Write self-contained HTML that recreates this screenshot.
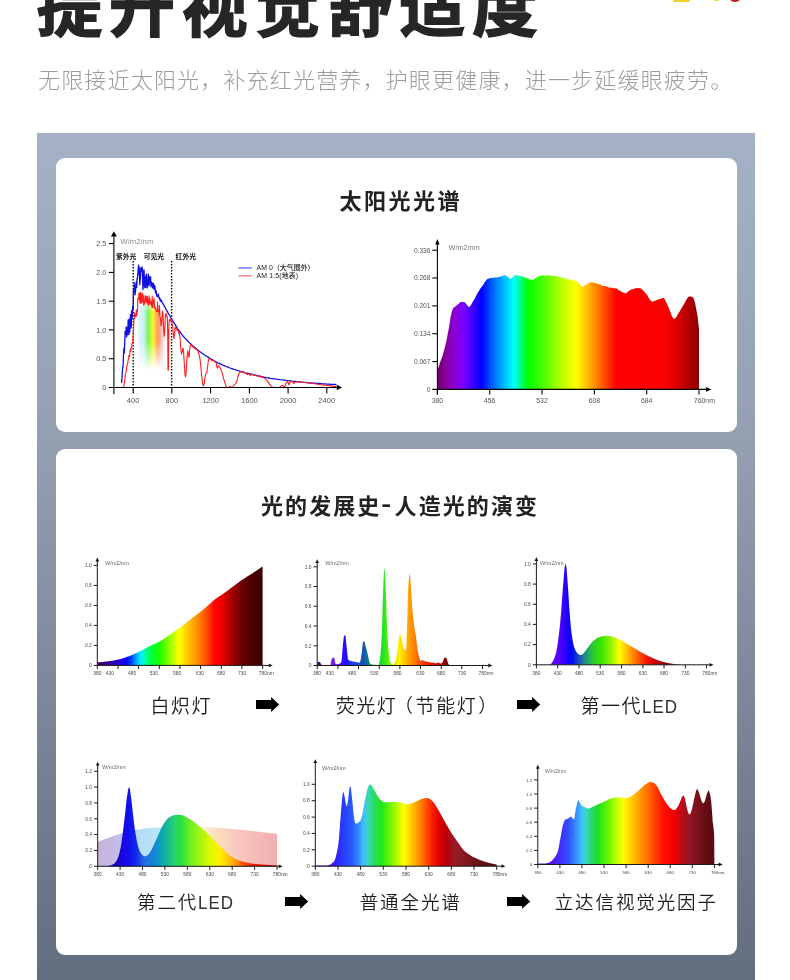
<!DOCTYPE html>
<html lang="zh-CN">
<head>
<meta charset="utf-8">
<title>提升视觉舒适度</title>
<style>
html,body{margin:0;padding:0;}
body{width:790px;height:980px;overflow:hidden;background:#fff;position:relative;
  font-family:"Liberation Sans","Noto Sans CJK SC",sans-serif;color:#222;}
.abs{position:absolute;white-space:nowrap;}
.h1{left:36.5px;top:-42px;font-size:66px;line-height:100px;font-weight:700;color:#262626;letter-spacing:6.6px;-webkit-text-stroke:1.4px #262626;}
.sub{left:38px;top:63.5px;font-size:22px;line-height:34px;font-weight:300;color:#9c9c9c;letter-spacing:1.18px;}
.deco{left:673px;top:-10px;width:17px;height:12px;border-radius:2px;background:#f0d020;}
.deco3{left:713px;top:-6px;width:7px;height:7px;border-radius:50%;background:#e2d800;}
.deco2{left:728px;top:-12px;width:14px;height:14px;border-radius:50%;background:#c8141e;}
.panel{left:37px;top:133px;width:718px;height:847px;background:linear-gradient(180deg,#a5b2c5 0%,#94a0b2 36.2%,#7c8899 67%,#626e7d 100%);}
.card{background:#fff;border-radius:9px;left:56px;width:681.2px;}
.c1{top:157.7px;height:274.2px;}
.c2{top:448.5px;height:506.4px;}
.t{font-weight:700;font-size:22px;line-height:30px;color:#222;}
.lab{font-family:"Liberation Sans","Noto Sans CJK SC",sans-serif;font-size:18.5px;line-height:28px;font-weight:350;color:#1c1c1c;letter-spacing:1.9px;}
.r1{font-size:19px;letter-spacing:1.55px;}
.en{display:inline-block;font-size:18.4px;letter-spacing:1.1px;color:#2e2e2e;transform:scaleX(0.92);transform-origin:0 50%;}
svg{position:absolute;left:0;top:0;}
svg text{font-family:"Liberation Sans","Noto Sans CJK SC",sans-serif;}
</style>
</head>
<body>
<div class="abs h1">提升视觉舒适度</div>
<div class="abs sub">无限接近太阳光，补充红光营养，护眼更健康，进一步延缓眼疲劳。</div>
<div class="abs deco"></div><div class="abs deco3"></div><div class="abs deco2"></div>
<div class="abs panel"></div>
<div class="abs card c1"></div>
<div class="abs card c2"></div>
<div class="abs t" style="left:339.5px;top:186.5px;letter-spacing:2.5px;">太阳光光谱</div>
<div class="abs t" style="left:261px;top:491.5px;letter-spacing:2.08px;">光的发展史<span style="display:inline-block;padding:0 1.9px;transform:translateY(-3px) scaleX(1.35)">-</span>人造光的演变</div>
<svg width="790" height="980" viewBox="0 0 790 980">
<defs>
<linearGradient id="s1rb" gradientUnits="userSpaceOnUse" x1="136.5" y1="0" x2="166.5" y2="0"><stop offset="0.0000" stop-color="#e8f0ff" stop-opacity="0.0"/><stop offset="0.1000" stop-color="#def0ff" stop-opacity="0.9"/><stop offset="0.2333" stop-color="#c4f0fc"/><stop offset="0.3167" stop-color="#9cf4a4"/><stop offset="0.3933" stop-color="#7cf450"/><stop offset="0.4833" stop-color="#c0f840"/><stop offset="0.5567" stop-color="#fff430"/><stop offset="0.6367" stop-color="#ffc830"/><stop offset="0.7167" stop-color="#ff9468"/><stop offset="0.8167" stop-color="#ffa8a8" stop-opacity="0.9"/><stop offset="0.9167" stop-color="#ffd4d4" stop-opacity="0.6"/><stop offset="1.0000" stop-color="#ffecec" stop-opacity="0.0"/></linearGradient>
<linearGradient id="s1fade" x1="0" y1="0" x2="0" y2="1"><stop offset="0" stop-color="#000"/><stop offset="0.2" stop-color="#fff"/><stop offset="0.6" stop-color="#fff"/><stop offset="1" stop-color="#000"/></linearGradient>
<mask id="s1mask" maskUnits="userSpaceOnUse" x="130" y="290" width="45" height="90"><rect x="130" y="298" width="45" height="72" fill="url(#s1fade)"/></mask>
<clipPath id="s1clip"><path d="M134.2 306.7 L135.1 304.9 L136.1 303.9 L137.1 301.9 L138 292.4 L139 291.8 L140 292.2 L140.9 292.6 L141.9 293.6 L142.9 294.8 L143.8 295.7 L144.8 296.2 L145.8 296.7 L146.8 297.2 L147.7 298 L148.7 298.9 L149.7 299.9 L150.6 300.9 L151.6 302.2 L152.6 303.5 L153.5 305.1 L154.5 306.6 L155.5 308.2 L156.4 309.8 L157.4 311.5 L158.4 313.3 L159.3 314.9 L160.3 316.4 L161.3 317.9 L162.2 319.3 L163.2 320.7 L164.2 322.1 L165.1 323.5 L166.1 324.9 L167.1 326.3 L167.1 380 L134.2 380 Z"/></clipPath>
<linearGradient id="s2rb" gradientUnits="userSpaceOnUse" x1="437.4" y1="0" x2="699" y2="0"><stop offset="0.0000" stop-color="#6d0069"/><stop offset="0.0316" stop-color="#86009a"/><stop offset="0.0737" stop-color="#8a00e0"/><stop offset="0.1000" stop-color="#7a00ff"/><stop offset="0.1474" stop-color="#2a00ff"/><stop offset="0.1684" stop-color="#0000ff"/><stop offset="0.2105" stop-color="#0060ff"/><stop offset="0.2579" stop-color="#00c0ff"/><stop offset="0.2921" stop-color="#00ffff"/><stop offset="0.3158" stop-color="#00ff90"/><stop offset="0.3447" stop-color="#00ff00"/><stop offset="0.4079" stop-color="#50ff00"/><stop offset="0.4737" stop-color="#b8ff00"/><stop offset="0.5316" stop-color="#ffff00"/><stop offset="0.5711" stop-color="#ffc000"/><stop offset="0.6184" stop-color="#ff7000"/><stop offset="0.6842" stop-color="#ff0000"/><stop offset="0.8737" stop-color="#fa0000"/><stop offset="0.9289" stop-color="#d00000"/><stop offset="0.9684" stop-color="#aa0000"/><stop offset="1.0000" stop-color="#8c0000"/></linearGradient>
<linearGradient id="cAg" gradientUnits="userSpaceOnUse" x1="97.3" y1="0" x2="262.6" y2="0"><stop offset="0.0000" stop-color="#33005c"/><stop offset="0.0625" stop-color="#3a0090"/><stop offset="0.1250" stop-color="#2a00c8"/><stop offset="0.1750" stop-color="#0a00ff"/><stop offset="0.2050" stop-color="#0040ff"/><stop offset="0.2375" stop-color="#00b0ff"/><stop offset="0.2625" stop-color="#00f0ff"/><stop offset="0.2875" stop-color="#00ffb0"/><stop offset="0.3250" stop-color="#00ff40"/><stop offset="0.3750" stop-color="#18ff00"/><stop offset="0.4375" stop-color="#90ff00"/><stop offset="0.4950" stop-color="#ffff00"/><stop offset="0.5450" stop-color="#ffc800"/><stop offset="0.6050" stop-color="#ff8c00"/><stop offset="0.6625" stop-color="#ff4c00"/><stop offset="0.7000" stop-color="#ff1000"/><stop offset="0.7250" stop-color="#ff0000"/><stop offset="0.7600" stop-color="#e80000"/><stop offset="0.8125" stop-color="#a40000"/><stop offset="0.8825" stop-color="#620000"/><stop offset="0.9500" stop-color="#460000"/><stop offset="1.0000" stop-color="#3a0000"/></linearGradient>
<linearGradient id="cBg" gradientUnits="userSpaceOnUse" x1="317.2" y1="0" x2="482.5" y2="0"><stop offset="0.0000" stop-color="#3a0060"/><stop offset="0.0375" stop-color="#500090"/><stop offset="0.0750" stop-color="#8030f0"/><stop offset="0.1125" stop-color="#6a10f8"/><stop offset="0.1450" stop-color="#4408ff"/><stop offset="0.1750" stop-color="#1c10ff"/><stop offset="0.2125" stop-color="#2038f0"/><stop offset="0.2500" stop-color="#2050d8"/><stop offset="0.2700" stop-color="#1448c4"/><stop offset="0.2875" stop-color="#1060a8"/><stop offset="0.3075" stop-color="#10787c"/><stop offset="0.3300" stop-color="#10a060"/><stop offset="0.3700" stop-color="#10d828"/><stop offset="0.4050" stop-color="#28e818"/><stop offset="0.4300" stop-color="#60f010"/><stop offset="0.4650" stop-color="#c8f400"/><stop offset="0.4950" stop-color="#fff200"/><stop offset="0.5250" stop-color="#ffcc00"/><stop offset="0.5575" stop-color="#ff9c00"/><stop offset="0.5950" stop-color="#ff7a00"/><stop offset="0.6300" stop-color="#ff4400"/><stop offset="0.6875" stop-color="#f41800"/><stop offset="0.7400" stop-color="#d00000"/><stop offset="0.7700" stop-color="#8c0000"/><stop offset="0.8000" stop-color="#700000"/><stop offset="1.0000" stop-color="#500000"/></linearGradient>
<linearGradient id="cCg" gradientUnits="userSpaceOnUse" x1="536.4" y1="0" x2="706.6" y2="0"><stop offset="0.0000" stop-color="#5000c0"/><stop offset="0.0875" stop-color="#6400ff"/><stop offset="0.1375" stop-color="#5000ff"/><stop offset="0.1675" stop-color="#3000ff"/><stop offset="0.1875" stop-color="#1000ff"/><stop offset="0.2125" stop-color="#0010f0"/><stop offset="0.2375" stop-color="#1038d0"/><stop offset="0.2625" stop-color="#2060b0"/><stop offset="0.2825" stop-color="#208890"/><stop offset="0.3050" stop-color="#20a860"/><stop offset="0.3375" stop-color="#28d028"/><stop offset="0.3875" stop-color="#40e800"/><stop offset="0.4375" stop-color="#90f400"/><stop offset="0.4875" stop-color="#ffff00"/><stop offset="0.5250" stop-color="#ffc800"/><stop offset="0.5625" stop-color="#ff9000"/><stop offset="0.6050" stop-color="#ff5000"/><stop offset="0.6500" stop-color="#f01800"/><stop offset="0.7000" stop-color="#c80000"/><stop offset="0.7625" stop-color="#900000"/><stop offset="0.8250" stop-color="#600000"/><stop offset="1.0000" stop-color="#400000"/></linearGradient>
<linearGradient id="cDg" gradientUnits="userSpaceOnUse" x1="97.7" y1="0" x2="277" y2="0"><stop offset="0.0000" stop-color="#1a0070"/><stop offset="0.0875" stop-color="#1c00b0"/><stop offset="0.1400" stop-color="#1808e0"/><stop offset="0.1750" stop-color="#1010f0"/><stop offset="0.2125" stop-color="#1428e8"/><stop offset="0.2450" stop-color="#1c58e4"/><stop offset="0.2650" stop-color="#2070e0"/><stop offset="0.3000" stop-color="#1880d8"/><stop offset="0.3325" stop-color="#1090d0"/><stop offset="0.3725" stop-color="#10b0a0"/><stop offset="0.4125" stop-color="#20c880"/><stop offset="0.4400" stop-color="#28d860"/><stop offset="0.4675" stop-color="#30e040"/><stop offset="0.5200" stop-color="#70f020"/><stop offset="0.5750" stop-color="#a8f410"/><stop offset="0.6275" stop-color="#e0f800"/><stop offset="0.6800" stop-color="#fff000"/><stop offset="0.7350" stop-color="#ffc000"/><stop offset="0.7750" stop-color="#ff9000"/><stop offset="0.8150" stop-color="#ff4800"/><stop offset="0.8700" stop-color="#f01000"/><stop offset="1.0000" stop-color="#d00000"/></linearGradient>
<linearGradient id="cDp" gradientUnits="userSpaceOnUse" x1="97.7" y1="0" x2="277" y2="0"><stop offset="0.0000" stop-color="#c9b4d6"/><stop offset="0.0800" stop-color="#c4b8e4"/><stop offset="0.1500" stop-color="#b8c8f4"/><stop offset="0.2250" stop-color="#b4dcf8"/><stop offset="0.3375" stop-color="#b8e4f6"/><stop offset="0.4500" stop-color="#c8ecd8"/><stop offset="0.5500" stop-color="#f0f0c4"/><stop offset="0.6000" stop-color="#fcecc8"/><stop offset="0.6800" stop-color="#fcdabc"/><stop offset="0.7900" stop-color="#f8c6be"/><stop offset="0.9250" stop-color="#f4b6b6"/><stop offset="1.0000" stop-color="#f2b0b2"/></linearGradient>
<linearGradient id="cEg" gradientUnits="userSpaceOnUse" x1="315.3" y1="0" x2="496.7" y2="0"><stop offset="0.0000" stop-color="#7000d0"/><stop offset="0.0750" stop-color="#5008e8"/><stop offset="0.1200" stop-color="#3020ff"/><stop offset="0.1475" stop-color="#2838ff"/><stop offset="0.2000" stop-color="#2858ff"/><stop offset="0.2400" stop-color="#3090ff"/><stop offset="0.2650" stop-color="#40c0fc"/><stop offset="0.2950" stop-color="#38d8b0"/><stop offset="0.3250" stop-color="#28dc60"/><stop offset="0.3650" stop-color="#20e818"/><stop offset="0.4250" stop-color="#80f800"/><stop offset="0.4850" stop-color="#ffff00"/><stop offset="0.5250" stop-color="#ffd000"/><stop offset="0.5700" stop-color="#ff9000"/><stop offset="0.6175" stop-color="#ff4800"/><stop offset="0.6500" stop-color="#f81800"/><stop offset="0.6900" stop-color="#d80000"/><stop offset="0.7225" stop-color="#b80008"/><stop offset="0.7700" stop-color="#981c28"/><stop offset="0.8350" stop-color="#801820"/><stop offset="0.9150" stop-color="#641014"/><stop offset="1.0000" stop-color="#500c10"/></linearGradient>
<linearGradient id="cFg" gradientUnits="userSpaceOnUse" x1="537.8" y1="0" x2="714.4" y2="0"><stop offset="0.0000" stop-color="#7000d0"/><stop offset="0.0750" stop-color="#5810f0"/><stop offset="0.1325" stop-color="#4030ff"/><stop offset="0.1725" stop-color="#3050ff"/><stop offset="0.2200" stop-color="#3890ff"/><stop offset="0.2475" stop-color="#40c0f8"/><stop offset="0.2750" stop-color="#38d8c0"/><stop offset="0.3025" stop-color="#28d870"/><stop offset="0.3425" stop-color="#20e020"/><stop offset="0.4050" stop-color="#70f800"/><stop offset="0.4450" stop-color="#c0ff00"/><stop offset="0.4850" stop-color="#ffff00"/><stop offset="0.5275" stop-color="#ffd000"/><stop offset="0.5800" stop-color="#ff9800"/><stop offset="0.6225" stop-color="#ff7000"/><stop offset="0.6625" stop-color="#ff4000"/><stop offset="0.7100" stop-color="#ff1000"/><stop offset="0.7725" stop-color="#f00000"/><stop offset="0.8125" stop-color="#c00c18"/><stop offset="0.8525" stop-color="#941424"/><stop offset="0.9225" stop-color="#701018"/><stop offset="0.9750" stop-color="#5c0c12"/><stop offset="1.0000" stop-color="#580c12"/></linearGradient>
</defs>
<g clip-path="url(#s1clip)"><rect x="136.5" y="298" width="30" height="72" fill="url(#s1rb)" mask="url(#s1mask)"/></g>
<line x1="133.2" y1="261" x2="133.2" y2="387" stroke="#000" stroke-width="1.35" stroke-dasharray="1.4 1.6"/>
<line x1="171.6" y1="261" x2="171.6" y2="387" stroke="#000" stroke-width="1.35" stroke-dasharray="1.4 1.6"/>
<path d="M121.6 382.9 L122 378.3 L122.4 371.3 L122.7 367.7 L123.1 366.7 L123.5 354.8 L123.9 348.5 L124.3 353 L124.7 343.1 L125.1 331.5 L125.5 333 L125.8 334.6 L126.2 326.8 L126.6 337 L127 328.2 L127.4 334.8 L127.8 329.6 L128.2 319.9 L128.6 333.6 L128.9 334.6 L129.3 319.2 L129.7 332.2 L130.1 324.2 L130.5 314.4 L130.9 328.2 L131.3 325.7 L131.7 310.5 L132 319.2 L132.4 314.4 L132.8 306.1 L133.2 309 L133.6 289.4 L134 288.7 L134.4 282.8 L134.7 286.5 L135.1 294.6 L135.5 291.2 L135.9 287.2 L136.3 281.6 L136.7 287.4 L137.1 278.3 L137.5 278.8 L137.8 273.7 L138.2 269.4 L138.6 265.1 L139 274.6 L139.4 267.6 L139.8 284.6 L140.2 280 L140.6 276 L140.9 268 L141.3 268.2 L141.7 271.6 L142.1 267 L142.5 270.5 L142.9 289.6 L143.3 285.8 L143.7 277.4 L144 269.9 L144.4 277.2 L144.8 287.8 L145.2 277 L145.6 287.3 L146 277.7 L146.4 274.2 L146.8 280.7 L147.1 287.9 L147.5 287.2 L147.9 284.1 L148.3 274.1 L148.7 284.4 L149.1 285.5 L149.5 280.5 L149.8 276.5 L150.2 282.8 L150.6 277.1 L151 286.8 L151.4 282 L151.8 283.1 L152.2 284.2 L152.6 287.9 L152.9 283.1 L153.3 283.1 L153.7 288.3 L154.1 289.4 L154.5 285.1 L154.9 286.2 L155.3 290.9 L155.7 293.2 L156 290.7 L156.4 293.2 L156.8 295.8 L157.2 296.6 L157.6 296.2 L158 295.2 L158.4 294 L158.8 297.4 L159.1 297.4 L159.5 299.2 L159.9 298.3 L160.3 300.8 L160.7 299.7 L161.1 301.3 L161.5 300.7 L161.9 301.6 L162.2 302.4 L162.6 303.2 L163 303.8 L163.4 304.7 L163.8 305.1 L164.2 305.7 L164.6 306.8 L165 307.1 L165.3 307.9 L165.7 308.7 L166.1 309.5 L166.5 310.1 L166.9 310.7 L167.3 311.3 L167.7 312.2 L168 312.8 L170 316 L171.9 319.5 L173.9 322.6 L175.8 325.7 L177.7 328.8 L179.7 331.4 L181.6 334.1 L183.5 336.5 L185.5 338.6 L187.4 340.7 L189.3 342.6 L191.3 344.5 L193.2 346.2 L195.2 347.8 L197.1 349.4 L199 351 L201 352.5 L202.9 353.8 L204.8 355.2 L206.8 356.3 L208.7 357.6 L210.6 358.8 L212.6 359.9 L214.5 361 L216.4 362.1 L218.4 363.1 L220.3 363.9 L222.3 364.9 L224.2 365.7 L226.1 366.5 L228.1 367.2 L230 368 L231.9 368.6 L233.9 369.3 L235.8 369.9 L237.7 370.5 L239.7 371.2 L241.6 371.7 L243.6 372.2 L245.5 372.8 L247.4 373.2 L249.4 373.7 L251.3 374.2 L253.2 374.7 L255.2 375.1 L257.1 375.6 L259 376 L261 376.5 L262.9 376.9 L264.8 377.3 L266.8 377.7 L268.7 378 L270.7 378.4 L272.6 378.6 L274.5 378.9 L276.5 379.2 L278.4 379.4 L280.3 379.7 L282.3 379.9 L284.2 380.1 L286.1 380.4 L288.1 380.6 L290 380.8 L292 381.1 L293.9 381.3 L295.8 381.5 L297.8 381.8 L299.7 382 L301.6 382.1 L303.6 382.3 L305.5 382.4 L307.4 382.6 L309.4 382.8 L311.3 382.9 L313.2 383.1 L315.2 383.2 L317.1 383.4 L319.1 383.5 L321 383.6 L322.9 383.8 L324.9 383.9 L326.8 384.1 L328.7 384.2 L330.7 384.3 L332.6 384.4 L334.5 384.5 L336.5 384.6" fill="none" stroke="#1010de" stroke-width="1.3" stroke-linejoin="round"/>
<path d="M123.5 386.9 L123.9 385.2 L124.3 383.3 L124.7 380.7 L125.1 376.6 L125.5 373.2 L125.8 372.7 L126.2 371.1 L126.6 368.3 L127 365.3 L127.4 364.3 L127.8 362.8 L128.2 360 L128.6 358.4 L128.9 355.3 L129.3 356.9 L129.7 355.5 L130.1 350.3 L130.5 349 L130.9 351.3 L131.3 347.4 L131.7 347.5 L132 343.5 L132.4 343.1 L132.8 340.8 L133.2 336 L133.6 328.3 L134 318.1 L134.4 318.4 L134.7 312.9 L135.1 314.2 L135.5 315.5 L135.9 316.8 L136.3 309.7 L136.7 315.5 L137.1 312.5 L137.5 310.6 L137.8 299.3 L138.2 297.7 L138.6 299.1 L139 293.1 L139.4 292.8 L139.8 302.1 L140.2 303.2 L140.6 292.6 L140.9 295.5 L141.3 303.4 L141.7 297.7 L142.1 292.8 L142.5 302 L142.9 294.4 L143.3 296.3 L143.7 305.1 L144 302.4 L144.4 304.1 L144.8 298.4 L145.2 295.6 L145.6 295.9 L146 302.3 L146.4 296.8 L146.8 302.7 L147.1 296.2 L147.5 297.1 L147.9 304.4 L148.3 299.6 L148.7 305.5 L149.1 295.7 L149.5 302.4 L149.8 298.9 L150.2 304.3 L150.6 302.9 L151 301.6 L151.4 304.2 L151.8 307 L152.2 296.1 L152.6 307.5 L152.9 307.2 L153.3 300.2 L153.7 302.9 L154.1 298.1 L154.5 308.2 L154.9 308.3 L155.3 307.6 L155.7 307.8 L156 310.9 L156.4 311.5 L156.8 311.8 L157.2 311.3 L157.6 302.2 L158 311.6 L158.4 309.8 L158.8 309.7 L159.1 314.3 L159.5 305.2 L159.9 316.4 L160.3 317.2 L160.7 320.4 L161.1 325.6 L161.5 324.6 L161.9 320.3 L162.2 312.2 L162.6 311.3 L163 314.5 L163.4 323.2 L163.8 331.9 L164.2 336.2 L164.6 331.6 L165 325.1 L165.3 317.7 L165.7 313.8 L166.1 313.3 L166.5 316.3 L166.9 316.1 L167.3 316.9 L167.7 330.8 L168 370 L168.4 370.1 L168.8 331.2 L169.2 320.8 L169.6 319.3 L170 320.8 L170.4 319.3 L170.8 321.3 L171.1 318.9 L171.5 322.7 L171.9 322.1 L172.3 324.7 L172.7 326.6 L173.1 332.3 L173.5 335.4 L173.9 338.8 L174.2 336.2 L174.6 334.1 L175 327.9 L175.4 327.3 L175.8 327.6 L176.2 329 L176.6 329.2 L177 330.3 L177.3 330.4 L177.7 329 L178.1 330.7 L178.5 331.4 L178.9 333.7 L179.3 332 L179.7 335.7 L180.1 338.5 L180.4 343.7 L180.8 348.3 L181.2 352 L181.6 354.1 L182 352.1 L182.4 350.9 L182.8 348.2 L183.1 348.3 L183.5 350.5 L183.9 357 L184.3 363.2 L184.7 370.1 L185.1 375.3 L185.5 376.8 L185.9 375.1 L186.2 370.4 L186.6 363.8 L187 357.9 L187.4 354.3 L187.8 350.8 L188.2 353.3 L188.6 355.5 L189 357.5 L189.3 354.4 L189.7 349.5 L190.1 346.4 L190.5 345.4 L190.9 344.2 L191.3 345.8 L192 345.6 L192.6 346.3 L193.3 347.2 L194 347.3 L194.7 348.8 L195.3 348.4 L196 348.7 L196.7 349.8 L197.4 350.2 L198.1 351.6 L198.7 353.2 L199.4 356.3 L200.1 359.7 L200.8 365.9 L201.4 372.7 L202.1 379.7 L202.8 384.4 L203.5 385.8 L204.2 383.5 L204.8 378.5 L205.5 374.3 L206.2 373.3 L206.9 372.6 L207.5 367.3 L208.2 361.5 L208.9 358.9 L209.6 358.5 L210.3 359.2 L210.9 359.8 L211.6 360.3 L212.3 360.2 L213 360.7 L213.6 360.6 L214.3 361.1 L215 361.7 L215.7 362.5 L216.4 363.3 L217 367.3 L217.7 368.2 L218.4 365.9 L219.1 365.9 L219.7 367.1 L220.4 368.4 L221.1 370.1 L221.8 371.9 L222.4 374.1 L223.1 376.4 L223.8 379.2 L224.5 381.5 L225.2 383.7 L225.8 385.5 L226.5 386.8 L227.2 387.4 L227.9 387.5 L228.5 387.2 L229.2 386.8 L229.9 386.6 L230.6 386.8 L231.3 387.2 L231.9 387.3 L232.6 387 L233.3 386.2 L234 385.2 L234.6 384.5 L235.3 383.9 L236 383.2 L236.7 381.5 L237.4 379.1 L238 376.4 L238.7 374.3 L239.4 373 L240.1 372.2 L240.7 371.8 L241.4 372 L242.1 371.9 L242.8 372.1 L243.5 372.4 L244.1 372.4 L244.8 373 L245.5 373 L246.2 373.3 L246.8 374.3 L247.5 374.7 L248.2 374.1 L248.9 374.1 L249.6 374.4 L250.2 375.6 L250.9 375.1 L251.6 374.6 L252.3 374.6 L252.9 374.8 L253.6 375.1 L254.3 375.2 L255 375.5 L255.7 375.6 L256.3 375.7 L257 375.9 L257.7 376 L258.4 376.1 L259 376.2 L259.7 376.6 L260.4 376.5 L261.1 376.7 L261.8 376.8 L262.4 377.2 L263.1 377.4 L263.8 377.8 L264.5 378.1 L265.1 378.8 L265.8 379.4 L266.5 379.9 L267.2 380.9 L267.8 381.7 L268.5 382.6 L269.2 383.6 L269.9 384.6 L270.6 385.6 L271.2 386.3 L271.9 386.9 L272.6 387.3 L273.3 387.5 L273.9 387.5 L274.6 387.4 L275.3 387.3 L276 387.2 L276.7 387.3 L277.3 387.4 L278 387.5 L278.7 387.5 L279.4 387.3 L280 386.9 L280.7 386.3 L281.4 385.7 L282.1 385.4 L282.8 385.5 L283.4 386.3 L284.1 386.7 L284.8 386.2 L285.5 384.8 L286.1 383.2 L286.8 382 L287.5 381.4 L288.2 382.7 L288.9 384.7 L289.5 384 L290.2 381.8 L290.9 381.1 L291.6 381.2 L292.2 381.4 L292.9 382 L293.6 383.4 L294.3 383.3 L295 382.1 L295.6 381.7 L296.3 381.7 L297 381.8 L297.7 381.8 L298.3 381.9 L299 382 L299.7 382.1 L300.4 382.1 L301.1 382.2 L301.7 382.3 L302.4 382.4 L303.1 382.4 L303.8 382.5 L304.4 382.5 L305.1 382.6 L305.8 382.6 L306.5 382.7 L307.1 382.8 L307.8 382.8 L308.5 383 L309.2 383 L309.9 383.2 L310.5 383.2 L311.2 383.2 L311.9 383.3 L312.6 383.4 L313.2 383.5 L313.9 383.7 L314.6 383.7 L315.3 383.8 L316 384 L316.6 384 L317.3 384.2 L318 384.3 L318.7 384.4 L319.3 384.5 L320 384.6 L320.7 384.7 L321.4 384.8 L322.1 384.9 L322.7 385 L323.4 385.1 L324.1 385.2 L324.8 385.2 L325.4 385.3 L326.1 385.3 L326.8 385.4 L327.5 385.4 L328.2 385.5 L328.8 385.6 L329.5 385.7 L330.2 385.7 L330.9 385.9 L331.5 385.9 L332.2 386.1 L332.9 386.2 L333.6 386.3 L334.3 386.4 L334.9 386.5 L335.6 386.6 L336.3 386.6" fill="none" stroke="#ff1c1c" stroke-width="1.1" stroke-linejoin="round"/>
<line x1="113.9" y1="394.2" x2="113.9" y2="235.5" stroke="#000" stroke-width="1.1"/>
<polygon points="113.9,231.2 111,236.4 116.8,236.4" fill="#000"/>
<line x1="108.8" y1="387.5" x2="337.5" y2="387.5" stroke="#000" stroke-width="1.1"/>
<polygon points="342,387.5 336.8,384.7 336.8,390.3" fill="#000"/>
<line x1="108.8" y1="243.6" x2="113.9" y2="243.6" stroke="#000" stroke-width="1.1"/>
<text transform="translate(106.3 246.2) scale(0.5)" font-size="14.4" text-anchor="end" fill="#555" font-weight="400">2.5</text>
<line x1="108.8" y1="272.4" x2="113.9" y2="272.4" stroke="#000" stroke-width="1.1"/>
<text transform="translate(106.3 275) scale(0.5)" font-size="14.4" text-anchor="end" fill="#555" font-weight="400">2.0</text>
<line x1="108.8" y1="301.2" x2="113.9" y2="301.2" stroke="#000" stroke-width="1.1"/>
<text transform="translate(106.3 303.8) scale(0.5)" font-size="14.4" text-anchor="end" fill="#555" font-weight="400">1.5</text>
<line x1="108.8" y1="329.9" x2="113.9" y2="329.9" stroke="#000" stroke-width="1.1"/>
<text transform="translate(106.3 332.5) scale(0.5)" font-size="14.4" text-anchor="end" fill="#555" font-weight="400">1.0</text>
<line x1="108.8" y1="358.7" x2="113.9" y2="358.7" stroke="#000" stroke-width="1.1"/>
<text transform="translate(106.3 361.3) scale(0.5)" font-size="14.4" text-anchor="end" fill="#555" font-weight="400">0.5</text>
<text transform="translate(106.3 390.1) scale(0.5)" font-size="14.4" text-anchor="end" fill="#555" font-weight="400">0</text>
<line x1="133.2" y1="387.5" x2="133.2" y2="393.6" stroke="#000" stroke-width="1.1"/>
<text transform="translate(133.2 403.2) scale(0.5)" font-size="15.2" text-anchor="middle" fill="#555" font-weight="400">400</text>
<line x1="171.9" y1="387.5" x2="171.9" y2="393.6" stroke="#000" stroke-width="1.1"/>
<text transform="translate(171.9 403.2) scale(0.5)" font-size="15.2" text-anchor="middle" fill="#555" font-weight="400">800</text>
<line x1="210.6" y1="387.5" x2="210.6" y2="393.6" stroke="#000" stroke-width="1.1"/>
<text transform="translate(210.6 403.2) scale(0.5)" font-size="15.2" text-anchor="middle" fill="#555" font-weight="400">1200</text>
<line x1="249.4" y1="387.5" x2="249.4" y2="393.6" stroke="#000" stroke-width="1.1"/>
<text transform="translate(249.4 403.2) scale(0.5)" font-size="15.2" text-anchor="middle" fill="#555" font-weight="400">1600</text>
<line x1="288.1" y1="387.5" x2="288.1" y2="393.6" stroke="#000" stroke-width="1.1"/>
<text transform="translate(288.1 403.2) scale(0.5)" font-size="15.2" text-anchor="middle" fill="#555" font-weight="400">2000</text>
<line x1="326.8" y1="387.5" x2="326.8" y2="393.6" stroke="#000" stroke-width="1.1"/>
<text transform="translate(326.8 403.2) scale(0.5)" font-size="15.2" text-anchor="middle" fill="#555" font-weight="400">2400</text>
<text transform="translate(120.4 244.1) scale(0.5)" font-size="15.4" text-anchor="start" fill="#8a8a8a" font-weight="400">W/m2/nm</text>
<text transform="translate(126.2 258.9) scale(0.5)" font-size="13.6" text-anchor="middle" fill="#111" font-weight="700">紫外光</text>
<text transform="translate(153.9 258.9) scale(0.5)" font-size="13.6" text-anchor="middle" fill="#111" font-weight="700">可见光</text>
<text transform="translate(185.8 258.9) scale(0.5)" font-size="13.6" text-anchor="middle" fill="#111" font-weight="700">红外光</text>
<line x1="238.4" y1="267.9" x2="252" y2="267.9" stroke="#7878ff" stroke-width="1.5"/>
<line x1="238.4" y1="275.8" x2="252" y2="275.8" stroke="#ff8282" stroke-width="1.5"/>
<text transform="translate(256.6 270.4) scale(0.5)" font-size="13.8" text-anchor="start" fill="#222" font-weight="500" letter-spacing="0.1">AM 0（大气圈外）</text>
<text transform="translate(256.6 278.3) scale(0.5)" font-size="13.8" text-anchor="start" fill="#222" font-weight="500" letter-spacing="0.3">AM 1.5(地表)</text>
<path d="M437.4 370 L438.7 366.7 L440 362.6 L441 360 L441.3 359.3 L442.7 355.4 L444 350.6 L445.3 345.8 L445.3 345.7 L446.6 340 L447.9 332.8 L448.5 330 L449.2 325.9 L450.5 317.4 L451.6 312.5 L451.9 311.6 L453.2 308.1 L454.5 307.1 L455.8 306 L456 305.9 L457.1 304.9 L458.4 304 L459.7 302.7 L461.1 301.8 L462 301.8 L462.4 302 L463.7 302 L465 302.5 L465.5 302.9 L466.3 304.1 L467.6 306 L468.9 306.8 L469.4 306.9 L470.3 306.1 L471.6 304 L472.9 301.6 L474.2 299.6 L474.5 299 L475.5 297 L476.8 294.4 L478.2 292.1 L479.5 290 L479.5 289.8 L480.8 288 L482.1 286.3 L483 285.3 L483.4 284.5 L484.7 282.3 L486 280.4 L486 280.5 L487.4 279 L488.7 278.4 L489.5 278.4 L490 278 L491.3 278.1 L492.6 277.8 L493.9 277.8 L495.2 277.6 L496.6 277.4 L497.9 277.2 L498 276.9 L499.2 276.9 L500.5 276.4 L501.8 276.2 L503.1 275.7 L504.4 275.5 L505.4 275.1 L505.8 275.2 L507.1 276.5 L508.4 277.3 L509.7 278.7 L510.3 278.8 L511 278.7 L512.3 277.7 L513.6 276.6 L515 275.3 L516 275.1 L516.3 275.2 L517.6 275.4 L518.9 275.6 L520.2 275.8 L521.5 276.4 L522.8 276.5 L524 277.3 L524.2 277.2 L525.5 277.5 L526.8 278.2 L528.1 278.4 L529.4 279.4 L530.7 279.7 L531.9 279.9 L532 279.7 L533.4 279.6 L534.7 278.7 L536 277.7 L537.3 277.1 L538 276.6 L538.6 276.2 L539.9 276 L541.3 275.5 L542.6 275.3 L543.9 275.6 L543.9 275.6 L545.2 275.7 L546.5 275.6 L547.8 275.4 L549.1 275.2 L550.5 275.5 L551.8 275.9 L553.1 276 L554.4 276 L555.7 276.2 L556 276.1 L557 276.3 L558.3 276.6 L559.7 277.5 L561 277.6 L562.3 277.6 L563.6 278.1 L564.9 278.2 L565 278.3 L566.2 278.9 L567.5 279.2 L568.9 279.3 L570.2 279.5 L571.5 280 L572.8 280.5 L572.8 280.2 L574.1 280.3 L575.4 280.7 L576.7 281.2 L578 282.3 L578.1 282.1 L579.4 283.7 L580.7 285.3 L582 286.7 L582.4 287 L583.3 286.8 L584.6 285.5 L585.9 284.3 L587 284.3 L587.3 283.7 L588.6 283.3 L589.9 282.2 L591.2 282.2 L592 282.3 L592.5 282.4 L593.8 282.5 L595.1 283.2 L596.5 283.2 L597.8 283.8 L598 283.9 L599.1 284.6 L600.4 284.6 L601.7 285.5 L603 285.9 L604 286.3 L604.4 286 L605.7 286.3 L607 286.6 L608.3 287.3 L609.6 287.7 L610 287.6 L610.9 287.7 L612.2 287.7 L613.6 288.2 L614.9 288.4 L616 288.1 L616.2 288.3 L617.5 289.3 L618.8 290.3 L620.1 290.8 L621 291.3 L621.4 291.7 L622.8 292.5 L624.1 292.7 L625.4 293.4 L625.7 293.2 L626.7 293 L628 291.5 L629.3 290.7 L630 290.2 L630.6 289.6 L632 289.5 L633.3 289 L634.6 288.8 L635.3 288.1 L635.9 288 L637.2 288.3 L638.5 288 L639.8 288.3 L641.2 288.6 L642.5 290.1 L642.5 289.8 L643.8 291.3 L645.1 292.4 L646.4 294.3 L647 294.7 L647.7 296.3 L649 298.3 L650.4 300.2 L651.7 301.4 L652.1 301.8 L653 301.4 L654.3 301 L655.6 300.5 L656.9 300 L657 300.1 L658.2 299.6 L659.6 299 L660.9 298.7 L662.2 298 L663.2 297.8 L663.5 298.2 L664.8 299.3 L666.1 302.1 L667 303.8 L667.5 304.9 L668.8 307.7 L670.1 311.3 L671.4 315 L672.7 317.4 L673.8 318.8 L674 319 L675.3 318.2 L676.7 316.4 L678 314 L678 313.7 L679.3 311.9 L680.6 309.7 L681.9 307.8 L683.2 305.2 L683.4 305 L684.5 303.3 L685.9 300.4 L687 298.4 L687.2 298.5 L688.5 296.8 L689.8 296.4 L690.6 296.6 L691.1 296.5 L692.4 297 L693.7 298.5 L693.8 298.9 L695.1 303.3 L695.9 307.4 L696.4 310 L697.7 317 L697.8 317.9 L699 329.5 L699 389.4 L437.4 389.4 Z" fill="url(#s2rb)"/>
<line x1="437.4" y1="394.6" x2="437.4" y2="244" stroke="#000" stroke-width="1.1"/>
<polygon points="437.4,239 435.2,244.4 439.6,244.4" fill="#000"/>
<line x1="432.3" y1="389.4" x2="706.5" y2="389.4" stroke="#000" stroke-width="1.1"/>
<polygon points="711.4,389.4 706,387.1 706,391.7" fill="#000"/>
<line x1="432.3" y1="250.2" x2="437.4" y2="250.2" stroke="#000" stroke-width="1.1"/>
<text transform="translate(430.4 252.6) scale(0.5)" font-size="13.2" text-anchor="end" fill="#555" font-weight="400">0.336</text>
<line x1="432.3" y1="278" x2="437.4" y2="278" stroke="#000" stroke-width="1.1"/>
<text transform="translate(430.4 280.4) scale(0.5)" font-size="13.2" text-anchor="end" fill="#555" font-weight="400">0.268</text>
<line x1="432.3" y1="305.9" x2="437.4" y2="305.9" stroke="#000" stroke-width="1.1"/>
<text transform="translate(430.4 308.3) scale(0.5)" font-size="13.2" text-anchor="end" fill="#555" font-weight="400">0.201</text>
<line x1="432.3" y1="333.7" x2="437.4" y2="333.7" stroke="#000" stroke-width="1.1"/>
<text transform="translate(430.4 336.1) scale(0.5)" font-size="13.2" text-anchor="end" fill="#555" font-weight="400">0.134</text>
<line x1="432.3" y1="361.6" x2="437.4" y2="361.6" stroke="#000" stroke-width="1.1"/>
<text transform="translate(430.4 364) scale(0.5)" font-size="13.2" text-anchor="end" fill="#555" font-weight="400">0.067</text>
<text transform="translate(430.4 391.8) scale(0.5)" font-size="13.2" text-anchor="end" fill="#555" font-weight="400">0</text>
<line x1="437.4" y1="389.4" x2="437.4" y2="394.6" stroke="#000" stroke-width="1.1"/>
<text transform="translate(437.4 402.6) scale(0.5)" font-size="13.8" text-anchor="middle" fill="#555" font-weight="400">380</text>
<line x1="489.7" y1="389.4" x2="489.7" y2="394.6" stroke="#000" stroke-width="1.1"/>
<text transform="translate(489.7 402.6) scale(0.5)" font-size="13.8" text-anchor="middle" fill="#555" font-weight="400">456</text>
<line x1="542" y1="389.4" x2="542" y2="394.6" stroke="#000" stroke-width="1.1"/>
<text transform="translate(542 402.6) scale(0.5)" font-size="13.8" text-anchor="middle" fill="#555" font-weight="400">532</text>
<line x1="594.4" y1="389.4" x2="594.4" y2="394.6" stroke="#000" stroke-width="1.1"/>
<text transform="translate(594.4 402.6) scale(0.5)" font-size="13.8" text-anchor="middle" fill="#555" font-weight="400">608</text>
<line x1="646.7" y1="389.4" x2="646.7" y2="394.6" stroke="#000" stroke-width="1.1"/>
<text transform="translate(646.7 402.6) scale(0.5)" font-size="13.8" text-anchor="middle" fill="#555" font-weight="400">684</text>
<line x1="699" y1="389.4" x2="699" y2="394.6" stroke="#000" stroke-width="1.1"/>
<text transform="translate(693.8 402.6) scale(0.5)" font-size="13.8" text-anchor="start" fill="#555" font-weight="400">760nm</text>
<text transform="translate(448.5 249.7) scale(0.5)" font-size="14.6" text-anchor="start" fill="#777" font-weight="400">W/m2/nm</text>
<path d="M97.3 662.4 L98.1 662.3 L99 662.3 L99.8 662.2 L100.6 662.2 L101.5 662.1 L102.3 662 L103.1 661.9 L103.9 661.8 L104.8 661.7 L105.6 661.6 L106.4 661.5 L107.3 661.4 L107.6 661.4 L108.1 661.3 L108.9 661.2 L109.8 661.1 L110.6 661 L111.4 660.9 L112.3 660.7 L113.1 660.6 L113.9 660.4 L114.7 660.3 L115.6 660.1 L116.4 659.9 L117.2 659.8 L118 659.6 L118.1 659.6 L118.9 659.4 L119.7 659.2 L120.6 658.9 L121.4 658.7 L122.2 658.5 L123.1 658.2 L123.9 657.9 L124.7 657.7 L125.5 657.4 L126.4 657.1 L127.2 656.8 L128 656.5 L128.3 656.4 L128.9 656.2 L129.7 655.9 L130.5 655.6 L131.4 655.2 L132.2 654.9 L133 654.5 L133.8 654.2 L134.7 653.8 L135.5 653.4 L136.3 653.1 L137.2 652.7 L138 652.3 L138.6 652 L138.8 651.9 L139.7 651.5 L140.5 651.1 L141.3 650.6 L142.2 650.2 L143 649.7 L143.8 649.2 L144.6 648.7 L145.5 648.3 L146.3 647.8 L147.1 647.4 L148 646.9 L148.8 646.5 L149 646.4 L149.6 646.1 L150.5 645.7 L151.3 645.3 L152.1 644.9 L153 644.5 L153.8 644.2 L154.6 643.8 L155.4 643.4 L156.3 643.1 L157.1 642.7 L157.9 642.3 L158.8 641.9 L159.6 641.4 L160.1 641.1 L160.4 641 L161.3 640.5 L162.1 640 L162.9 639.5 L163.8 638.9 L164.6 638.4 L165.4 637.8 L166.2 637.2 L167.1 636.7 L167.9 636.1 L168.7 635.5 L169.6 634.9 L169.6 634.9 L170.4 634.4 L171.2 633.8 L172.1 633.2 L172.9 632.7 L173.7 632.1 L174.6 631.5 L175.4 630.9 L176.2 630.3 L177 629.8 L177.9 629.2 L178.7 628.6 L179.5 628 L180.4 627.4 L180.6 627.2 L181.2 626.7 L182 626.1 L182.9 625.5 L183.7 624.8 L184.5 624.2 L185.3 623.5 L186.2 622.8 L187 622.2 L187.8 621.5 L188.7 620.9 L189.5 620.2 L190.3 619.6 L190.3 619.6 L191.2 618.9 L192 618.3 L192.8 617.7 L193.7 617.1 L194.5 616.5 L195.3 615.8 L196.1 615.2 L197 614.6 L197.8 614 L198.6 613.3 L199.5 612.7 L200.3 612 L200.6 611.8 L201.1 611.4 L202 610.7 L202.8 610 L203.6 609.3 L204.5 608.6 L205.3 607.9 L206.1 607.1 L206.9 606.4 L207.8 605.7 L208.6 604.9 L209.4 604.2 L210.3 603.5 L210.9 602.9 L211.1 602.8 L211.9 602 L212.8 601.3 L213.6 600.5 L214.4 599.8 L215.3 599.1 L215.9 598.6 L216.1 598.5 L216.9 597.9 L217.7 597.3 L218.6 596.8 L219.4 596.3 L220.2 595.8 L221.1 595.2 L221.3 595.1 L221.9 594.7 L222.7 594.1 L223.6 593.5 L224.4 592.9 L225.2 592.3 L226.1 591.7 L226.9 591.1 L227.7 590.5 L228.5 589.9 L229.4 589.2 L230.2 588.6 L231 588 L231.6 587.6 L231.9 587.4 L232.7 586.8 L233.5 586.2 L234.4 585.6 L235.2 584.9 L236 584.3 L236.8 583.7 L237.7 583.1 L238.5 582.4 L239.3 581.8 L240.2 581.2 L241 580.6 L241.8 580.1 L242.4 579.7 L242.7 579.5 L243.5 578.9 L244.3 578.4 L245.2 577.9 L246 577.3 L246.8 576.8 L247.6 576.3 L248.5 575.8 L249.3 575.3 L250.1 574.8 L251 574.2 L251.8 573.7 L252.3 573.4 L252.6 573.2 L253.5 572.6 L254.3 572.1 L255.1 571.5 L256 571 L256.8 570.4 L257.6 569.9 L258.4 569.3 L259.3 568.8 L260.1 568.2 L260.9 567.6 L261.8 567.1 L262.6 566.5 L262.6 665.4 L97.3 665.4 Z" fill="url(#cAg)"/>
<line x1="97.3" y1="669" x2="97.3" y2="561" stroke="#1a1a1a" stroke-width="1.0"/>
<polygon points="97.3,557.6 95.4,561.5 99.2,561.5" fill="#1a1a1a"/>
<line x1="97.3" y1="665.4" x2="269.3" y2="665.4" stroke="#1a1a1a" stroke-width="1.0"/>
<polygon points="272.7,665.4 268.8,663.5 268.8,667.3" fill="#1a1a1a"/>
<line x1="93.7" y1="565.4" x2="97.3" y2="565.4" stroke="#1a1a1a" stroke-width="1.0"/>
<text transform="translate(91.7 567.2) scale(0.5)" font-size="9.8" text-anchor="end" fill="#4a4a4a" font-weight="400">1.0</text>
<line x1="93.7" y1="585.4" x2="97.3" y2="585.4" stroke="#1a1a1a" stroke-width="1.0"/>
<text transform="translate(91.7 587.2) scale(0.5)" font-size="9.8" text-anchor="end" fill="#4a4a4a" font-weight="400">0.8</text>
<line x1="93.7" y1="605.4" x2="97.3" y2="605.4" stroke="#1a1a1a" stroke-width="1.0"/>
<text transform="translate(91.7 607.2) scale(0.5)" font-size="9.8" text-anchor="end" fill="#4a4a4a" font-weight="400">0.6</text>
<line x1="93.7" y1="625.4" x2="97.3" y2="625.4" stroke="#1a1a1a" stroke-width="1.0"/>
<text transform="translate(91.7 627.2) scale(0.5)" font-size="9.8" text-anchor="end" fill="#4a4a4a" font-weight="400">0.4</text>
<line x1="93.7" y1="645.4" x2="97.3" y2="645.4" stroke="#1a1a1a" stroke-width="1.0"/>
<text transform="translate(91.7 647.2) scale(0.5)" font-size="9.8" text-anchor="end" fill="#4a4a4a" font-weight="400">0.2</text>
<line x1="93.7" y1="665.4" x2="97.3" y2="665.4" stroke="#1a1a1a" stroke-width="1.0"/>
<text transform="translate(91.7 667.2) scale(0.5)" font-size="9.8" text-anchor="end" fill="#4a4a4a" font-weight="400">0</text>
<text transform="translate(97.3 675.4) scale(0.5)" font-size="9.8" text-anchor="middle" fill="#4a4a4a" font-weight="400">380</text>
<line x1="118" y1="665.4" x2="118" y2="669" stroke="#1a1a1a" stroke-width="1.0"/>
<text transform="translate(109.8 675.4) scale(0.5)" font-size="9.8" text-anchor="middle" fill="#4a4a4a" font-weight="400">430</text>
<line x1="138.6" y1="665.4" x2="138.6" y2="669" stroke="#1a1a1a" stroke-width="1.0"/>
<text transform="translate(132.1 675.4) scale(0.5)" font-size="9.8" text-anchor="middle" fill="#4a4a4a" font-weight="400">480</text>
<line x1="159.3" y1="665.4" x2="159.3" y2="669" stroke="#1a1a1a" stroke-width="1.0"/>
<text transform="translate(153.8 675.4) scale(0.5)" font-size="9.8" text-anchor="middle" fill="#4a4a4a" font-weight="400">530</text>
<line x1="179.9" y1="665.4" x2="179.9" y2="669" stroke="#1a1a1a" stroke-width="1.0"/>
<text transform="translate(177.2 675.4) scale(0.5)" font-size="9.8" text-anchor="middle" fill="#4a4a4a" font-weight="400">580</text>
<line x1="200.6" y1="665.4" x2="200.6" y2="669" stroke="#1a1a1a" stroke-width="1.0"/>
<text transform="translate(199.8 675.4) scale(0.5)" font-size="9.8" text-anchor="middle" fill="#4a4a4a" font-weight="400">630</text>
<line x1="221.3" y1="665.4" x2="221.3" y2="669" stroke="#1a1a1a" stroke-width="1.0"/>
<text transform="translate(221.2 675.4) scale(0.5)" font-size="9.8" text-anchor="middle" fill="#4a4a4a" font-weight="400">680</text>
<line x1="241.9" y1="665.4" x2="241.9" y2="669" stroke="#1a1a1a" stroke-width="1.0"/>
<text transform="translate(242.1 675.4) scale(0.5)" font-size="9.8" text-anchor="middle" fill="#4a4a4a" font-weight="400">730</text>
<line x1="262.6" y1="665.4" x2="262.6" y2="669" stroke="#1a1a1a" stroke-width="1.0"/>
<text transform="translate(266.3 675.4) scale(0.5)" font-size="9.8" text-anchor="middle" fill="#4a4a4a" font-weight="400">780nm</text>
<text transform="translate(105.1 565.3) scale(0.5)" font-size="11.1" text-anchor="start" fill="#666" font-weight="400">W/m2/nm</text>
<path d="M317.2 665.5 L317.5 662.2 L317.6 662 L317.9 662 L318.2 662 L318.5 662 L318.9 662 L319.2 662 L319.6 662 L319.7 662 L319.9 662.1 L320.2 662.6 L320.6 663.3 L320.9 663.9 L321.2 664.4 L321.3 664.5 L321.6 664.7 L321.9 664.9 L322.2 665.1 L322.6 665.3 L322.9 665.4 L323.3 665.5 L323.4 665.5 L323.6 665.5 L323.9 665.5 L324.3 665.5 L324.6 665.5 L324.9 665.5 L325.3 665.5 L325.6 665.5 L326 665.5 L326.3 665.5 L326.6 665.5 L327 665.5 L327.3 665.5 L327.6 665.5 L328 665.5 L328.3 665.5 L328.6 665.5 L329 665.5 L329.3 665.5 L329.7 665.5 L330 665.5 L330 665.5 L330.3 664.8 L330.7 663.2 L331 661.5 L331.3 660.6 L331.3 660.3 L331.7 659.5 L332 658.7 L332.3 658.1 L332.7 657.7 L332.9 657.6 L333 657.6 L333.4 657.6 L333.7 657.7 L334 657.8 L334.1 657.8 L334.4 658.3 L334.7 660.1 L335 662.3 L335.4 663.5 L335.4 663.5 L335.7 663.9 L336.1 664.1 L336.4 664.3 L336.6 664.3 L336.7 664.3 L337.1 664.3 L337.4 664.3 L337.7 664.2 L338.1 664.2 L338.4 664.1 L338.7 664 L339.1 663.9 L339.4 663.7 L339.8 663.5 L340.1 663.3 L340.4 663.1 L340.8 662.9 L341.1 662.6 L341.2 662.5 L341.4 661.5 L341.8 658.5 L342.1 654.3 L342.4 649.9 L342.8 646.1 L342.8 645.8 L343.1 642.8 L343.5 639.4 L343.8 636.8 L344.1 635.9 L344.1 635.8 L344.5 635.6 L344.8 635.5 L345.1 635.4 L345.3 635.4 L345.5 635.8 L345.8 638.2 L346.1 641.8 L346.5 645.3 L346.5 645.8 L346.8 648.4 L347.2 652 L347.5 655.4 L347.8 658.2 L348.2 659.5 L348.2 659.6 L348.5 659.9 L348.8 660.1 L349.2 660.4 L349.5 660.5 L349.9 660.7 L350.2 660.8 L350.5 660.9 L350.9 661 L351.1 661.1 L351.2 661.1 L351.5 661.2 L351.9 661.3 L352.2 661.3 L352.5 661.4 L352.9 661.5 L353.2 661.5 L353.6 661.6 L353.9 661.7 L354.2 661.7 L354.6 661.8 L354.9 661.8 L355.2 661.9 L355.6 661.9 L355.9 662 L356.2 662 L356.5 662 L356.6 662.1 L356.9 662.1 L357.3 662.2 L357.6 662.3 L357.9 662.3 L358.3 662.4 L358.6 662.4 L358.9 662.5 L359.3 662.5 L359.6 662.5 L359.8 662.5 L359.9 662.4 L360.3 661.5 L360.6 660.1 L361 658.2 L361.3 656.3 L361.4 655.6 L361.6 654.2 L362 651.2 L362.3 647.8 L362.6 644.7 L363 642.6 L363.1 642.3 L363.3 641.7 L363.7 641 L363.9 640.8 L364 640.9 L364.3 641.4 L364.7 642.4 L365 643.6 L365.3 645 L365.6 645.8 L365.7 646.2 L366 647.4 L366.3 648.7 L366.7 650.1 L367 651.5 L367.4 652.9 L367.7 654.3 L368 655.6 L368 655.6 L368.4 657.1 L368.7 658.7 L369 660.3 L369.4 661.7 L369.7 662.8 L370 663.5 L370.1 663.5 L370.4 663.7 L370.7 664 L371.1 664.1 L371.4 664.3 L371.7 664.4 L372.1 664.5 L372.4 664.6 L372.7 664.7 L373 664.7 L373.1 664.7 L373.4 664.7 L373.8 664.8 L374.1 664.8 L374.4 664.8 L374.8 664.8 L375.1 664.8 L375.4 664.8 L375.8 664.9 L376.1 664.9 L376.4 664.9 L376.8 664.9 L377.1 664.9 L377.5 664.9 L377.8 664.9 L378.1 664.9 L378.4 664.9 L378.5 664.9 L378.8 664.4 L379.1 663.4 L379.5 662.1 L379.8 660.6 L379.8 660.6 L380.1 658.3 L380.5 654.8 L380.8 650.3 L381.2 645 L381.5 639.1 L381.7 635.9 L381.8 632.3 L382.2 622.3 L382.5 610.5 L382.8 599.1 L383.1 591.5 L383.2 590 L383.5 581.6 L383.8 573.9 L384.2 569 L384.4 568.3 L384.5 568.8 L384.9 572.6 L385.2 578.6 L385.5 585.4 L385.6 586.5 L385.9 592.9 L386.2 602.7 L386.5 613.2 L386.9 622.5 L387 626 L387.2 629.4 L387.6 635.6 L387.9 641.4 L388.2 646.4 L388.6 650.6 L388.9 653.6 L388.9 653.7 L389.2 656 L389.6 658 L389.9 659.8 L390.2 661.2 L390.6 662.2 L390.8 662.5 L390.9 662.8 L391.3 663.3 L391.6 663.7 L391.9 664.1 L392.3 664.3 L392.6 664.5 L392.8 664.5 L392.9 664.5 L393.3 664.4 L393.6 664.2 L393.9 663.8 L394.3 663.4 L394.6 663 L394.9 662.5 L395 662.4 L395.3 661.6 L395.6 660.4 L396 659 L396.3 657.3 L396.6 655.5 L397 653.7 L397 653.5 L397.3 651.1 L397.6 648.1 L398 644.9 L398.3 641.9 L398.6 639.8 L398.7 639.5 L399 637.4 L399.3 635.4 L399.7 634.1 L399.9 633.9 L400 634 L400.3 634.4 L400.7 635.2 L401 636.2 L401.4 637.4 L401.5 637.9 L401.7 638.6 L402 640.4 L402.4 642.6 L402.7 644.7 L403 646.3 L403.2 646.7 L403.4 647.4 L403.7 648.4 L404 649.2 L404.4 649.9 L404.7 650.2 L404.8 650.2 L405.1 650.1 L405.4 649.9 L405.7 649.4 L406 648.7 L406.1 648.7 L406.4 644.3 L406.7 635.7 L407.1 626.2 L407.1 626 L407.4 615.6 L407.7 603 L408.1 591.8 L408.3 586.5 L408.4 585 L408.8 580 L409.1 576.1 L409.4 573.9 L409.6 573.7 L409.8 574.2 L410.1 576.6 L410.4 580.3 L410.8 584.3 L410.8 584.6 L411.1 588.7 L411.4 594.2 L411.8 600.1 L412.1 605.7 L412.5 610.2 L412.5 610.3 L412.8 614 L413.1 617.3 L413.5 620.4 L413.8 623.2 L414.1 625.8 L414.3 627 L414.5 628.1 L414.8 630.2 L415.2 632.1 L415.5 634 L415.8 636 L416 636.9 L416.2 638.3 L416.5 641 L416.8 643.8 L417.2 646.6 L417.5 649 L417.6 649.7 L417.8 651 L418.2 652.8 L418.5 654.5 L418.9 656 L419.2 657.3 L419.3 657.6 L419.5 658.5 L419.9 659.8 L420.2 660.7 L420.5 661.1 L420.5 661.1 L420.9 660.9 L421.2 660.7 L421.5 660.4 L421.9 660.1 L422.2 660.1 L422.2 660.1 L422.6 660.1 L422.9 660.2 L423.2 660.4 L423.6 660.6 L423.9 660.7 L424.2 660.9 L424.6 661 L424.6 661.1 L424.9 661.1 L425.3 661.2 L425.6 661.3 L425.9 661.4 L426.3 661.5 L426.6 661.6 L426.9 661.7 L427.3 661.7 L427.6 661.8 L427.9 661.9 L428.3 661.9 L428.6 662 L428.8 662 L429 662.1 L429.3 662.1 L429.6 662.2 L430 662.3 L430.3 662.3 L430.6 662.4 L431 662.4 L431.3 662.5 L431.6 662.5 L432 662.6 L432.3 662.6 L432.7 662.7 L432.9 662.7 L433 662.8 L433.3 662.8 L433.7 662.9 L434 663 L434.3 663.1 L434.7 663.1 L435 663.2 L435.3 663.3 L435.7 663.3 L436 663.3 L436.2 663.3 L436.4 663.3 L436.7 663.2 L437 663.1 L437.4 662.9 L437.7 662.7 L438 662.6 L438.3 662.5 L438.4 662.5 L438.7 662.7 L439.1 662.8 L439.4 663.1 L439.7 663.3 L440.1 663.5 L440.3 663.5 L440.4 663.5 L440.7 663.5 L441.1 663.4 L441.4 663.2 L441.7 663 L442.1 662.8 L442.4 662.5 L442.4 662.5 L442.8 662 L443.1 661.1 L443.4 660.1 L443.8 659.2 L444.1 658.6 L444.1 658.5 L444.4 658.1 L444.8 657.7 L445.1 657.5 L445.3 657.4 L445.4 657.4 L445.8 657.6 L446.1 658 L446.5 658.5 L446.5 658.6 L446.8 659.1 L447.1 660.1 L447.5 661.3 L447.8 662.5 L448.1 663.4 L448.2 663.5 L448.5 664 L448.8 664.5 L449.1 664.9 L449.4 665.1 L449.5 665.1 L449.8 665.2 L450.2 665.3 L450.5 665.4 L450.8 665.5 L451.2 665.5 L451.5 665.5 L451.5 665.5 L317.2 665.5 Z" fill="url(#cBg)"/>
<line x1="317.2" y1="669.1" x2="317.2" y2="562.6" stroke="#1a1a1a" stroke-width="1.0"/>
<polygon points="317.2,559.2 315.3,563.1 319.1,563.1" fill="#1a1a1a"/>
<line x1="317.2" y1="665.5" x2="488.8" y2="665.5" stroke="#1a1a1a" stroke-width="1.0"/>
<polygon points="492.2,665.5 488.3,663.6 488.3,667.4" fill="#1a1a1a"/>
<line x1="313.6" y1="566.8" x2="317.2" y2="566.8" stroke="#1a1a1a" stroke-width="1.0"/>
<text transform="translate(311.6 568.6) scale(0.5)" font-size="9.8" text-anchor="end" fill="#4a4a4a" font-weight="400">1.0</text>
<line x1="313.6" y1="586.5" x2="317.2" y2="586.5" stroke="#1a1a1a" stroke-width="1.0"/>
<text transform="translate(311.6 588.3) scale(0.5)" font-size="9.8" text-anchor="end" fill="#4a4a4a" font-weight="400">0.8</text>
<line x1="313.6" y1="606.3" x2="317.2" y2="606.3" stroke="#1a1a1a" stroke-width="1.0"/>
<text transform="translate(311.6 608) scale(0.5)" font-size="9.8" text-anchor="end" fill="#4a4a4a" font-weight="400">0.6</text>
<line x1="313.6" y1="626" x2="317.2" y2="626" stroke="#1a1a1a" stroke-width="1.0"/>
<text transform="translate(311.6 627.8) scale(0.5)" font-size="9.8" text-anchor="end" fill="#4a4a4a" font-weight="400">0.4</text>
<line x1="313.6" y1="645.8" x2="317.2" y2="645.8" stroke="#1a1a1a" stroke-width="1.0"/>
<text transform="translate(311.6 647.5) scale(0.5)" font-size="9.8" text-anchor="end" fill="#4a4a4a" font-weight="400">0.2</text>
<line x1="313.6" y1="665.5" x2="317.2" y2="665.5" stroke="#1a1a1a" stroke-width="1.0"/>
<text transform="translate(311.6 667.3) scale(0.5)" font-size="9.8" text-anchor="end" fill="#4a4a4a" font-weight="400">0</text>
<text transform="translate(317 675.4) scale(0.5)" font-size="9.8" text-anchor="middle" fill="#4a4a4a" font-weight="400">380</text>
<line x1="337.9" y1="665.5" x2="337.9" y2="669.1" stroke="#1a1a1a" stroke-width="1.0"/>
<text transform="translate(329.8 675.4) scale(0.5)" font-size="9.8" text-anchor="middle" fill="#4a4a4a" font-weight="400">430</text>
<line x1="358.5" y1="665.5" x2="358.5" y2="669.1" stroke="#1a1a1a" stroke-width="1.0"/>
<text transform="translate(352.1 675.4) scale(0.5)" font-size="9.8" text-anchor="middle" fill="#4a4a4a" font-weight="400">480</text>
<line x1="379.2" y1="665.5" x2="379.2" y2="669.1" stroke="#1a1a1a" stroke-width="1.0"/>
<text transform="translate(374.4 675.4) scale(0.5)" font-size="9.8" text-anchor="middle" fill="#4a4a4a" font-weight="400">530</text>
<line x1="399.9" y1="665.5" x2="399.9" y2="669.1" stroke="#1a1a1a" stroke-width="1.0"/>
<text transform="translate(397.5 675.4) scale(0.5)" font-size="9.8" text-anchor="middle" fill="#4a4a4a" font-weight="400">580</text>
<line x1="420.5" y1="665.5" x2="420.5" y2="669.1" stroke="#1a1a1a" stroke-width="1.0"/>
<text transform="translate(420.3 675.4) scale(0.5)" font-size="9.8" text-anchor="middle" fill="#4a4a4a" font-weight="400">630</text>
<line x1="441.2" y1="665.5" x2="441.2" y2="669.1" stroke="#1a1a1a" stroke-width="1.0"/>
<text transform="translate(441.2 675.4) scale(0.5)" font-size="9.8" text-anchor="middle" fill="#4a4a4a" font-weight="400">680</text>
<line x1="461.8" y1="665.5" x2="461.8" y2="669.1" stroke="#1a1a1a" stroke-width="1.0"/>
<text transform="translate(462.1 675.4) scale(0.5)" font-size="9.8" text-anchor="middle" fill="#4a4a4a" font-weight="400">730</text>
<line x1="482.5" y1="665.5" x2="482.5" y2="669.1" stroke="#1a1a1a" stroke-width="1.0"/>
<text transform="translate(486 675.4) scale(0.5)" font-size="9.8" text-anchor="middle" fill="#4a4a4a" font-weight="400">780nm</text>
<text transform="translate(325.2 565.2) scale(0.5)" font-size="11.1" text-anchor="start" fill="#666" font-weight="400">W/m2/nm</text>
<path d="M550 664.8 L550.7 664.3 L551.3 663.5 L552 662.6 L552.6 661.8 L552.7 661.6 L553.3 660.4 L554 659 L554.7 657.3 L555.3 655.4 L555.5 654.7 L556 653.2 L556.6 650.1 L557.3 646.2 L558 641.7 L558.5 637.6 L558.6 636.7 L559.3 631.1 L560 624.9 L560.6 617.8 L561.1 612.3 L561.3 609.7 L561.9 601 L562.6 592 L563.2 584.1 L563.3 583.2 L563.9 575.1 L564.5 568.9 L564.6 567.8 L565.3 564.3 L565.5 563.9 L565.9 564.2 L566.6 568.7 L566.6 568.9 L567.2 577.1 L567.9 586.1 L567.9 586.5 L568.6 596.7 L569.2 607.2 L569.6 612.3 L569.9 616.6 L570.6 624.4 L571.2 630.7 L571.7 634.5 L571.9 635.7 L572.6 639.9 L573.2 643.5 L573.9 646.3 L574.5 648.3 L574.7 648.7 L575.2 649.7 L575.9 651 L576.5 652.1 L577.2 653 L577.9 653.7 L578.1 653.9 L578.5 654.2 L579.2 654.6 L579.8 654.9 L580.5 655 L581.1 654.9 L581.2 654.9 L581.8 654.6 L582.5 654.2 L583.2 653.7 L583.8 653 L584.1 652.7 L584.5 652.1 L585.1 651.2 L585.8 650.4 L586.5 649.5 L587.1 648.6 L587.5 648.2 L587.8 647.7 L588.5 646.8 L589.1 646 L589.8 645.1 L590.4 644.2 L591.1 643.4 L591.7 642.6 L591.8 642.5 L592.4 641.7 L593.1 641 L593.8 640.4 L594.4 639.9 L595.1 639.4 L595.8 638.9 L596 638.8 L596.4 638.5 L597.1 638.1 L597.7 637.8 L598.4 637.5 L599.1 637.2 L599.7 637 L600.2 636.9 L600.4 636.8 L601.1 636.6 L601.7 636.5 L602.4 636.3 L603 636.2 L603.7 636.1 L604.4 636 L605 635.9 L605.7 635.9 L606.4 635.8 L606.6 635.8 L607 635.8 L607.7 635.9 L608.3 635.9 L609 636 L609.7 636.1 L610.3 636.2 L611 636.3 L611.7 636.4 L612.1 636.5 L612.3 636.6 L613 636.8 L613.6 637 L614.3 637.2 L615 637.4 L615.6 637.7 L616.3 637.9 L617 638.2 L617.2 638.4 L617.6 638.6 L618.3 638.9 L619 639.2 L619.6 639.6 L620.3 639.9 L620.9 640.3 L621.6 640.6 L622.3 641 L622.9 641.4 L623.6 641.8 L623.6 641.8 L624.3 642.2 L624.9 642.6 L625.6 643 L626.2 643.4 L626.9 643.8 L627.6 644.2 L628.2 644.6 L628.9 645 L629.6 645.4 L630 645.6 L630.2 645.8 L630.9 646.2 L631.5 646.6 L632.2 646.9 L632.9 647.3 L633.5 647.7 L634.2 648.1 L634.9 648.5 L635.5 648.9 L636.2 649.3 L636.4 649.5 L636.8 649.7 L637.5 650.1 L638.2 650.5 L638.8 650.9 L639.5 651.3 L640.2 651.6 L640.8 652 L641.5 652.4 L642.2 652.7 L642.8 653.1 L642.8 653.1 L643.5 653.5 L644.1 653.8 L644.8 654.2 L645.5 654.5 L646.1 654.9 L646.8 655.2 L647.5 655.6 L648.1 655.9 L648.8 656.2 L649.2 656.4 L649.4 656.6 L650.1 656.9 L650.8 657.2 L651.4 657.5 L652.1 657.8 L652.8 658.1 L653.4 658.4 L654.1 658.6 L654.7 658.9 L655.4 659.2 L655.5 659.3 L656.1 659.5 L656.7 659.7 L657.4 660 L658.1 660.2 L658.7 660.5 L659.4 660.7 L660 661 L660.7 661.2 L661.4 661.4 L662 661.6 L662.7 661.8 L663.4 662 L664 662.2 L664 662.2 L664.7 662.3 L665.4 662.5 L666 662.6 L666.7 662.8 L667.3 662.9 L668 663.1 L668.7 663.2 L669.3 663.3 L670 663.4 L670.7 663.5 L671.3 663.6 L672 663.7 L672.6 663.8 L672.6 663.8 L673.3 663.9 L674 664 L674.6 664.1 L675.3 664.1 L676 664.2 L676.6 664.3 L677.3 664.4 L677.9 664.5 L678.6 664.5 L679.3 664.6 L679.9 664.6 L680.6 664.7 L681.3 664.8 L681.9 664.8 L681.9 664.8 L550 664.8 Z" fill="url(#cCg)"/>
<line x1="536.4" y1="668.4" x2="536.4" y2="560.4" stroke="#1a1a1a" stroke-width="1.0"/>
<polygon points="536.4,557 534.5,560.9 538.3,560.9" fill="#1a1a1a"/>
<line x1="536.4" y1="664.8" x2="710" y2="664.8" stroke="#1a1a1a" stroke-width="1.0"/>
<polygon points="713.4,664.8 709.5,662.9 709.5,666.7" fill="#1a1a1a"/>
<line x1="532.8" y1="563.9" x2="536.4" y2="563.9" stroke="#1a1a1a" stroke-width="1.0"/>
<text transform="translate(530.8 565.7) scale(0.5)" font-size="9.8" text-anchor="end" fill="#4a4a4a" font-weight="400">1.0</text>
<line x1="532.8" y1="584.1" x2="536.4" y2="584.1" stroke="#1a1a1a" stroke-width="1.0"/>
<text transform="translate(530.8 585.8) scale(0.5)" font-size="9.8" text-anchor="end" fill="#4a4a4a" font-weight="400">0.8</text>
<line x1="532.8" y1="604.3" x2="536.4" y2="604.3" stroke="#1a1a1a" stroke-width="1.0"/>
<text transform="translate(530.8 606) scale(0.5)" font-size="9.8" text-anchor="end" fill="#4a4a4a" font-weight="400">0.6</text>
<line x1="532.8" y1="624.4" x2="536.4" y2="624.4" stroke="#1a1a1a" stroke-width="1.0"/>
<text transform="translate(530.8 626.2) scale(0.5)" font-size="9.8" text-anchor="end" fill="#4a4a4a" font-weight="400">0.4</text>
<line x1="532.8" y1="644.6" x2="536.4" y2="644.6" stroke="#1a1a1a" stroke-width="1.0"/>
<text transform="translate(530.8 646.4) scale(0.5)" font-size="9.8" text-anchor="end" fill="#4a4a4a" font-weight="400">0.2</text>
<line x1="532.8" y1="664.8" x2="536.4" y2="664.8" stroke="#1a1a1a" stroke-width="1.0"/>
<text transform="translate(530.8 666.6) scale(0.5)" font-size="9.8" text-anchor="end" fill="#4a4a4a" font-weight="400">0</text>
<text transform="translate(536.4 675.1) scale(0.5)" font-size="9.8" text-anchor="middle" fill="#4a4a4a" font-weight="400">380</text>
<line x1="557.7" y1="664.8" x2="557.7" y2="668.4" stroke="#1a1a1a" stroke-width="1.0"/>
<text transform="translate(557.7 675.1) scale(0.5)" font-size="9.8" text-anchor="middle" fill="#4a4a4a" font-weight="400">430</text>
<line x1="579" y1="664.8" x2="579" y2="668.4" stroke="#1a1a1a" stroke-width="1.0"/>
<text transform="translate(579 675.1) scale(0.5)" font-size="9.8" text-anchor="middle" fill="#4a4a4a" font-weight="400">480</text>
<line x1="600.2" y1="664.8" x2="600.2" y2="668.4" stroke="#1a1a1a" stroke-width="1.0"/>
<text transform="translate(600.2 675.1) scale(0.5)" font-size="9.8" text-anchor="middle" fill="#4a4a4a" font-weight="400">530</text>
<line x1="621.5" y1="664.8" x2="621.5" y2="668.4" stroke="#1a1a1a" stroke-width="1.0"/>
<text transform="translate(621.5 675.1) scale(0.5)" font-size="9.8" text-anchor="middle" fill="#4a4a4a" font-weight="400">580</text>
<line x1="642.8" y1="664.8" x2="642.8" y2="668.4" stroke="#1a1a1a" stroke-width="1.0"/>
<text transform="translate(642.8 675.1) scale(0.5)" font-size="9.8" text-anchor="middle" fill="#4a4a4a" font-weight="400">630</text>
<line x1="664" y1="664.8" x2="664" y2="668.4" stroke="#1a1a1a" stroke-width="1.0"/>
<text transform="translate(664 675.1) scale(0.5)" font-size="9.8" text-anchor="middle" fill="#4a4a4a" font-weight="400">680</text>
<line x1="685.3" y1="664.8" x2="685.3" y2="668.4" stroke="#1a1a1a" stroke-width="1.0"/>
<text transform="translate(685.3 675.1) scale(0.5)" font-size="9.8" text-anchor="middle" fill="#4a4a4a" font-weight="400">730</text>
<line x1="706.6" y1="664.8" x2="706.6" y2="668.4" stroke="#1a1a1a" stroke-width="1.0"/>
<text transform="translate(709.8 675.1) scale(0.5)" font-size="9.8" text-anchor="middle" fill="#4a4a4a" font-weight="400">780nm</text>
<text transform="translate(540 565.2) scale(0.5)" font-size="11.1" text-anchor="start" fill="#666" font-weight="400">W/m2/nm</text>
<path d="M97.7 841.7 L100.7 840.7 L103.8 839.6 L106.7 838.6 L106.8 838.5 L109.9 837.4 L112.9 836.3 L115.9 835.2 L119 834.2 L120.1 833.8 L122 833.3 L125.1 832.3 L128.1 831.5 L131.1 830.8 L133.6 830.3 L134.2 830.2 L137.2 829.6 L140.2 829.2 L143.3 828.7 L146.3 828.3 L149.4 828 L151.5 827.9 L152.4 827.8 L155.4 827.7 L158.5 827.5 L161.5 827.4 L164.6 827.3 L167.6 827.2 L169.4 827.1 L170.6 827.1 L173.7 827 L176.7 826.9 L179.8 826.8 L182.8 826.7 L185.8 826.7 L187.4 826.7 L188.9 826.7 L191.9 826.7 L194.9 826.8 L198 826.8 L201 826.8 L204.1 826.9 L205.3 826.9 L207.1 827 L210.1 827.2 L213.2 827.4 L216.2 827.7 L219.3 827.9 L222.3 828.2 L223.2 828.3 L225.3 828.5 L228.4 828.7 L231.4 829 L234.5 829.2 L237.5 829.5 L240.5 829.8 L241.1 829.9 L243.6 830.1 L246.6 830.4 L249.6 830.8 L252.7 831.1 L255.7 831.5 L258.8 831.8 L259.1 831.8 L261.8 832.2 L264.8 832.5 L267.9 832.8 L270.9 833.2 L274 833.5 L277 833.8 L277 866.3 L97.7 866.3 Z" fill="url(#cDp)"/>
<path d="M105.8 866.3 L106.6 866.3 L107.5 866.1 L108.3 866 L109.2 865.8 L110.1 865.6 L110.3 865.5 L110.9 865.3 L111.8 864.9 L112.7 864.5 L113.5 863.9 L114.4 863.4 L114.7 863.1 L115.2 862.7 L116.1 861.6 L117 860 L117.8 858 L118.3 856.8 L118.7 855.8 L119.5 852.8 L120.4 848.8 L121.3 843.8 L121.5 842.5 L122.1 838 L123 831.5 L123.8 824.5 L124.1 821.9 L124.7 817 L125.6 808.9 L126.4 801.4 L126.4 801.1 L127.3 794.7 L128.1 789.7 L128.2 789.5 L129 787.1 L129.1 787.1 L129.9 788.8 L130 789.5 L130.7 794.7 L131.6 801.4 L131.8 802.9 L132.4 808.9 L133.3 816.7 L134 822.7 L134.2 824 L135 830.3 L135.9 835.8 L136.7 840.2 L136.7 840.4 L137.6 844.3 L138.5 847.6 L139.3 850.1 L139.8 851.3 L140.2 851.9 L141 853.4 L141.9 854.6 L142.8 855.5 L143 855.6 L143.6 856 L144.5 856.3 L145.3 856.3 L145.7 856.2 L146.2 856 L147.1 855.6 L147.9 854.9 L148.4 854.4 L148.8 853.9 L149.7 852.8 L150.5 851.5 L151.4 849.9 L151.5 849.7 L152.2 848.2 L153.1 846.4 L154 844.6 L154.8 842.7 L155.7 840.8 L156 840.2 L156.5 838.9 L157.4 836.9 L158.3 834.9 L159.1 832.9 L160 830.9 L160.5 829.9 L160.8 829 L161.7 827.3 L162.6 825.7 L163.4 824.3 L164.3 822.9 L164.9 821.9 L165.1 821.7 L166 820.5 L166.9 819.5 L167.7 818.6 L168.6 817.8 L169.4 817.2 L169.4 817.2 L170.3 816.7 L171.2 816.2 L172 815.8 L172.9 815.5 L173.7 815.2 L173.9 815.2 L174.6 815.1 L175.5 815 L176.3 814.9 L177.2 814.8 L177.9 814.8 L178 814.8 L178.9 814.8 L179.8 814.9 L180.6 815 L181.5 815.1 L182 815.2 L182.3 815.3 L183.2 815.6 L184.1 815.9 L184.9 816.3 L185.8 816.7 L186.7 817.2 L187.4 817.6 L187.5 817.7 L188.4 818.2 L189.2 818.7 L190.1 819.2 L191 819.8 L191.8 820.3 L192.7 820.9 L193.5 821.5 L194.1 821.9 L194.4 822.2 L195.3 822.9 L196.1 823.5 L197 824.2 L197.8 824.9 L198.7 825.7 L199.6 826.4 L200.4 827.2 L200.8 827.5 L201.3 827.9 L202.1 828.7 L203 829.5 L203.9 830.2 L204.7 831 L205.6 831.8 L206.4 832.6 L207.3 833.4 L208.2 834.2 L209 835.1 L209.8 835.8 L209.9 835.9 L210.7 836.8 L211.6 837.7 L212.5 838.5 L213.3 839.4 L214.2 840.3 L215 841.2 L215.9 842.1 L216.8 842.9 L217.6 843.8 L218.5 844.7 L218.7 844.9 L219.3 845.5 L220.2 846.4 L221.1 847.3 L221.9 848.1 L222.8 849 L223.7 849.9 L224.5 850.7 L225.4 851.6 L225.5 851.6 L226.2 852.4 L227.1 853.2 L228 854 L228.8 854.7 L229.7 855.4 L230.5 856 L231.4 856.7 L232.2 857.2 L232.3 857.2 L233.1 857.8 L234 858.3 L234.8 858.8 L235.7 859.2 L236.6 859.6 L237.4 859.9 L238.3 860.3 L239.1 860.6 L240 860.8 L240.9 861.1 L241.1 861.2 L241.7 861.3 L242.6 861.5 L243.4 861.8 L244.3 862 L245.2 862.2 L246 862.4 L246.9 862.6 L247.7 862.8 L248.6 863 L249.5 863.2 L250.3 863.4 L251.2 863.5 L252 863.6 L252.9 863.8 L253.8 863.8 L254.6 863.9 L254.6 863.9 L255.5 864 L256.3 864.1 L257.2 864.1 L258.1 864.2 L258.9 864.3 L259.8 864.3 L260.7 864.4 L261.5 864.5 L262.4 864.5 L263.2 864.6 L264.1 864.6 L265 864.7 L265.8 864.7 L266.7 864.8 L267.5 864.8 L268 864.9 L268.4 864.9 L269.3 864.9 L270.1 865 L271 865 L271.8 865.1 L272.7 865.1 L273.6 865.2 L274.4 865.2 L275.3 865.3 L276.1 865.3 L277 865.3 L277 866.3 L105.8 866.3 Z" fill="url(#cDg)"/>
<line x1="97.7" y1="869.9" x2="97.7" y2="765.1" stroke="#1a1a1a" stroke-width="1.0"/>
<polygon points="97.7,761.7 95.8,765.6 99.6,765.6" fill="#1a1a1a"/>
<line x1="97.7" y1="866.3" x2="279.2" y2="866.3" stroke="#1a1a1a" stroke-width="1.0"/>
<polygon points="282.6,866.3 278.7,864.4 278.7,868.2" fill="#1a1a1a"/>
<line x1="94.1" y1="771.3" x2="97.7" y2="771.3" stroke="#1a1a1a" stroke-width="1.0"/>
<text transform="translate(92.1 773) scale(0.5)" font-size="9.8" text-anchor="end" fill="#4a4a4a" font-weight="400">1.2</text>
<line x1="94.1" y1="787.1" x2="97.7" y2="787.1" stroke="#1a1a1a" stroke-width="1.0"/>
<text transform="translate(92.1 788.9) scale(0.5)" font-size="9.8" text-anchor="end" fill="#4a4a4a" font-weight="400">1.0</text>
<line x1="94.1" y1="802.9" x2="97.7" y2="802.9" stroke="#1a1a1a" stroke-width="1.0"/>
<text transform="translate(92.1 804.7) scale(0.5)" font-size="9.8" text-anchor="end" fill="#4a4a4a" font-weight="400">0.8</text>
<line x1="94.1" y1="818.8" x2="97.7" y2="818.8" stroke="#1a1a1a" stroke-width="1.0"/>
<text transform="translate(92.1 820.5) scale(0.5)" font-size="9.8" text-anchor="end" fill="#4a4a4a" font-weight="400">0.6</text>
<line x1="94.1" y1="834.6" x2="97.7" y2="834.6" stroke="#1a1a1a" stroke-width="1.0"/>
<text transform="translate(92.1 836.4) scale(0.5)" font-size="9.8" text-anchor="end" fill="#4a4a4a" font-weight="400">0.4</text>
<line x1="94.1" y1="850.5" x2="97.7" y2="850.5" stroke="#1a1a1a" stroke-width="1.0"/>
<text transform="translate(92.1 852.2) scale(0.5)" font-size="9.8" text-anchor="end" fill="#4a4a4a" font-weight="400">0.2</text>
<line x1="94.1" y1="866.3" x2="97.7" y2="866.3" stroke="#1a1a1a" stroke-width="1.0"/>
<text transform="translate(92.1 868.1) scale(0.5)" font-size="9.8" text-anchor="end" fill="#4a4a4a" font-weight="400">0</text>
<text transform="translate(97.7 876.1) scale(0.5)" font-size="9.8" text-anchor="middle" fill="#4a4a4a" font-weight="400">380</text>
<line x1="120.1" y1="866.3" x2="120.1" y2="869.9" stroke="#1a1a1a" stroke-width="1.0"/>
<text transform="translate(120.1 876.1) scale(0.5)" font-size="9.8" text-anchor="middle" fill="#4a4a4a" font-weight="400">430</text>
<line x1="142.5" y1="866.3" x2="142.5" y2="869.9" stroke="#1a1a1a" stroke-width="1.0"/>
<text transform="translate(142.5 876.1) scale(0.5)" font-size="9.8" text-anchor="middle" fill="#4a4a4a" font-weight="400">480</text>
<line x1="164.9" y1="866.3" x2="164.9" y2="869.9" stroke="#1a1a1a" stroke-width="1.0"/>
<text transform="translate(164.9 876.1) scale(0.5)" font-size="9.8" text-anchor="middle" fill="#4a4a4a" font-weight="400">530</text>
<line x1="187.4" y1="866.3" x2="187.4" y2="869.9" stroke="#1a1a1a" stroke-width="1.0"/>
<text transform="translate(187.4 876.1) scale(0.5)" font-size="9.8" text-anchor="middle" fill="#4a4a4a" font-weight="400">580</text>
<line x1="209.8" y1="866.3" x2="209.8" y2="869.9" stroke="#1a1a1a" stroke-width="1.0"/>
<text transform="translate(209.8 876.1) scale(0.5)" font-size="9.8" text-anchor="middle" fill="#4a4a4a" font-weight="400">630</text>
<line x1="232.2" y1="866.3" x2="232.2" y2="869.9" stroke="#1a1a1a" stroke-width="1.0"/>
<text transform="translate(232.2 876.1) scale(0.5)" font-size="9.8" text-anchor="middle" fill="#4a4a4a" font-weight="400">680</text>
<line x1="254.6" y1="866.3" x2="254.6" y2="869.9" stroke="#1a1a1a" stroke-width="1.0"/>
<text transform="translate(254.6 876.1) scale(0.5)" font-size="9.8" text-anchor="middle" fill="#4a4a4a" font-weight="400">730</text>
<line x1="277" y1="866.3" x2="277" y2="869.9" stroke="#1a1a1a" stroke-width="1.0"/>
<text transform="translate(280.2 876.1) scale(0.5)" font-size="9.8" text-anchor="middle" fill="#4a4a4a" font-weight="400">780nm</text>
<text transform="translate(102 769.3) scale(0.5)" font-size="11.1" text-anchor="start" fill="#666" font-weight="400">W/m2/nm</text>
<path d="M315.3 865.5 L315.9 865.6 L316.5 865.6 L317.1 865.6 L317.7 865.6 L318.3 865.6 L318.9 865.6 L319.5 865.6 L320.2 865.6 L320.8 865.6 L321.4 865.6 L322 865.6 L322.6 865.6 L323.2 865.6 L323.8 865.6 L324.4 865.5 L324.4 865.5 L325 865.5 L325.6 865.5 L326.2 865.4 L326.8 865.4 L327.4 865.3 L328 865.2 L328 865.2 L328.6 865.1 L329.3 864.9 L329.9 864.7 L330.3 864.6 L330.5 864.5 L331.1 864.1 L331.7 863.6 L332.3 863.1 L332.5 862.9 L332.9 862.6 L333.5 862 L334.1 861.2 L334.3 860.9 L334.7 860.2 L335.3 858.5 L335.9 856.4 L336.4 854.5 L336.5 854.1 L337.1 851.4 L337.7 848 L338 846.5 L338.4 843.7 L339 837.8 L339.3 833.4 L339.6 830.5 L340.2 822.3 L340.7 815.4 L340.8 814.3 L341.4 806.8 L342 799.7 L342.1 799 L342.6 794 L343.2 791.7 L343.4 791.9 L343.8 793.2 L344.4 795.7 L344.8 797.4 L345 798.7 L345.6 802.2 L346.2 805.4 L346.4 805.8 L346.8 806.2 L347.5 803.8 L348 800.7 L348.1 799.9 L348.7 794.6 L349.3 789.5 L349.3 789.2 L349.9 786.4 L350.2 785.9 L350.5 786.4 L351.1 789.8 L351.1 790 L351.7 795.1 L352.3 800.7 L352.5 802.3 L352.9 806.4 L353.5 812.4 L353.8 815.4 L354.1 817.7 L354.7 821.4 L355.3 823.2 L355.7 823.4 L355.9 823.5 L356.6 823.4 L357.2 823.2 L357.8 822.9 L357.9 822.8 L358.4 822.5 L359 822.1 L359.6 821.6 L360.2 821 L360.2 821 L360.8 819.9 L361.4 818.1 L362 815.8 L362.5 813.8 L362.6 813 L363.2 809.8 L363.8 806.4 L364.4 803 L365 799.7 L365.2 799 L365.7 796.8 L366.3 794.1 L366.9 791.5 L367.5 789.1 L367.9 787.6 L368.1 787 L368.7 785.4 L369.3 784.5 L369.7 784.3 L369.9 784.3 L370.5 784.5 L371.1 785 L371.5 785.5 L371.7 785.8 L372.3 786.8 L372.9 787.8 L373.5 788.8 L374.1 789.8 L374.3 790 L374.8 790.9 L375.4 792 L376 793.2 L376.6 794.3 L377.2 795.4 L377.8 796.4 L377.9 796.6 L378.4 797.4 L379 798.2 L379.6 799 L380.2 799.6 L380.8 800.1 L381.4 800.6 L381.5 800.7 L382 801.1 L382.6 801.5 L383.2 801.8 L383.9 802.1 L384.5 802.2 L385.1 802.3 L385.1 802.3 L385.7 802.3 L386.3 802.3 L386.9 802.3 L387.5 802.3 L388.1 802.2 L388.7 802.2 L389.3 802.2 L389.9 802.2 L390.1 802.2 L390.5 802.1 L391.1 802.1 L391.7 802 L392.3 802 L393 801.9 L393.6 801.9 L394.2 801.9 L394.8 801.8 L395.1 801.8 L395.4 801.8 L396 801.9 L396.6 801.9 L397.2 802 L397.8 802.1 L398.4 802.3 L399 802.4 L399.6 802.5 L400.2 802.7 L400.6 802.7 L400.8 802.8 L401.4 802.9 L402.1 803.1 L402.7 803.3 L403.3 803.4 L403.9 803.6 L404.5 803.8 L405.1 803.9 L405.7 804.1 L406 804.1 L406.3 804.2 L406.9 804.3 L407.5 804.3 L408.1 804.3 L408.7 804.2 L409.3 804.1 L409.9 804 L410.5 803.8 L410.6 803.8 L411.2 803.6 L411.8 803.3 L412.4 803.1 L413 802.8 L413.6 802.6 L414.2 802.3 L414.8 802 L415.1 801.9 L415.4 801.8 L416 801.5 L416.6 801.2 L417.2 800.9 L417.8 800.7 L418.4 800.4 L419 800.1 L419.7 799.8 L420.3 799.6 L420.5 799.5 L420.9 799.3 L421.5 799.1 L422.1 798.9 L422.7 798.7 L423.3 798.5 L423.9 798.4 L424.5 798.3 L425.1 798.2 L425.7 798.1 L426 798.1 L426.3 798 L426.9 798 L427.5 798.1 L428.1 798.2 L428.8 798.5 L429.4 798.7 L430 799.1 L430.5 799.5 L430.6 799.5 L431.2 800 L431.8 800.5 L432.4 801.1 L433 801.8 L433.6 802.5 L434.2 803.3 L434.8 804.1 L435.4 805.1 L435.5 805.2 L436 806.1 L436.6 807.1 L437.2 808.1 L437.9 809.2 L438.5 810.2 L439.1 811.3 L439.7 812.4 L440 813 L440.3 813.4 L440.9 814.5 L441.5 815.6 L442.1 816.7 L442.7 817.8 L443.3 818.9 L443.9 820 L444.5 821.1 L445.1 822.2 L445.7 823.3 L445.9 823.6 L446.3 824.4 L447 825.4 L447.6 826.5 L448.2 827.5 L448.8 828.6 L449.4 829.6 L450 830.6 L450.6 831.5 L451.2 832.5 L451.8 833.4 L451.8 833.4 L452.4 834.4 L453 835.3 L453.6 836.2 L454.2 837 L454.8 837.9 L455.4 838.8 L456.1 839.7 L456.7 840.5 L457.3 841.4 L457.7 842 L457.9 842.3 L458.5 843.2 L459.1 844 L459.7 844.9 L460.3 845.8 L460.9 846.6 L461.5 847.4 L462.1 848.3 L462.7 849 L462.7 849 L463.3 849.8 L463.9 850.5 L464.5 851.1 L465.2 851.6 L465.8 852.1 L466.4 852.6 L467 853 L467.6 853.4 L468.2 853.8 L468.6 854.1 L468.8 854.2 L469.4 854.6 L470 855 L470.6 855.4 L471.2 855.8 L471.8 856.2 L472.4 856.5 L473 856.9 L473.6 857.2 L474.3 857.5 L474.5 857.6 L474.9 857.8 L475.5 858.1 L476.1 858.3 L476.7 858.6 L477.3 858.9 L477.9 859.1 L478.5 859.4 L479.1 859.6 L479.7 859.9 L480.3 860.1 L480.8 860.3 L480.9 860.3 L481.5 860.6 L482.1 860.8 L482.7 861 L483.4 861.2 L484 861.4 L484.6 861.6 L485.2 861.8 L485.8 862 L486.4 862.2 L487 862.3 L487.6 862.5 L487.6 862.5 L488.2 862.7 L488.8 862.8 L489.4 863 L490 863.1 L490.6 863.3 L491.2 863.4 L491.8 863.6 L492.5 863.7 L493.1 863.8 L493.7 864 L494.3 864.1 L494.9 864.2 L495.5 864.3 L496.1 864.5 L496.7 864.6 L496.7 866.2 L315.3 866.2 Z" fill="url(#cEg)"/>
<line x1="315.3" y1="869.8" x2="315.3" y2="762.6" stroke="#1a1a1a" stroke-width="1.0"/>
<polygon points="315.3,759.2 313.4,763.1 317.2,763.1" fill="#1a1a1a"/>
<line x1="315.3" y1="866.2" x2="502" y2="866.2" stroke="#1a1a1a" stroke-width="1.0"/>
<polygon points="505.4,866.2 501.5,864.3 501.5,868.1" fill="#1a1a1a"/>
<line x1="311.7" y1="784.3" x2="315.3" y2="784.3" stroke="#1a1a1a" stroke-width="1.0"/>
<text transform="translate(309.7 786.1) scale(0.5)" font-size="9.8" text-anchor="end" fill="#4a4a4a" font-weight="400">1.0</text>
<line x1="311.7" y1="800.7" x2="315.3" y2="800.7" stroke="#1a1a1a" stroke-width="1.0"/>
<text transform="translate(309.7 802.4) scale(0.5)" font-size="9.8" text-anchor="end" fill="#4a4a4a" font-weight="400">0.8</text>
<line x1="311.7" y1="817.1" x2="315.3" y2="817.1" stroke="#1a1a1a" stroke-width="1.0"/>
<text transform="translate(309.7 818.8) scale(0.5)" font-size="9.8" text-anchor="end" fill="#4a4a4a" font-weight="400">0.6</text>
<line x1="311.7" y1="833.4" x2="315.3" y2="833.4" stroke="#1a1a1a" stroke-width="1.0"/>
<text transform="translate(309.7 835.2) scale(0.5)" font-size="9.8" text-anchor="end" fill="#4a4a4a" font-weight="400">0.4</text>
<line x1="311.7" y1="849.8" x2="315.3" y2="849.8" stroke="#1a1a1a" stroke-width="1.0"/>
<text transform="translate(309.7 851.6) scale(0.5)" font-size="9.8" text-anchor="end" fill="#4a4a4a" font-weight="400">0.2</text>
<line x1="311.7" y1="866.2" x2="315.3" y2="866.2" stroke="#1a1a1a" stroke-width="1.0"/>
<text transform="translate(309.7 868) scale(0.5)" font-size="9.8" text-anchor="end" fill="#4a4a4a" font-weight="400">0</text>
<text transform="translate(315.3 875.8) scale(0.5)" font-size="9.8" text-anchor="middle" fill="#4a4a4a" font-weight="400">380</text>
<line x1="338" y1="866.2" x2="338" y2="869.8" stroke="#1a1a1a" stroke-width="1.0"/>
<text transform="translate(338 875.8) scale(0.5)" font-size="9.8" text-anchor="middle" fill="#4a4a4a" font-weight="400">430</text>
<line x1="360.6" y1="866.2" x2="360.6" y2="869.8" stroke="#1a1a1a" stroke-width="1.0"/>
<text transform="translate(360.6 875.8) scale(0.5)" font-size="9.8" text-anchor="middle" fill="#4a4a4a" font-weight="400">480</text>
<line x1="383.3" y1="866.2" x2="383.3" y2="869.8" stroke="#1a1a1a" stroke-width="1.0"/>
<text transform="translate(383.3 875.8) scale(0.5)" font-size="9.8" text-anchor="middle" fill="#4a4a4a" font-weight="400">530</text>
<line x1="406" y1="866.2" x2="406" y2="869.8" stroke="#1a1a1a" stroke-width="1.0"/>
<text transform="translate(406 875.8) scale(0.5)" font-size="9.8" text-anchor="middle" fill="#4a4a4a" font-weight="400">580</text>
<line x1="428.7" y1="866.2" x2="428.7" y2="869.8" stroke="#1a1a1a" stroke-width="1.0"/>
<text transform="translate(428.7 875.8) scale(0.5)" font-size="9.8" text-anchor="middle" fill="#4a4a4a" font-weight="400">630</text>
<line x1="451.4" y1="866.2" x2="451.4" y2="869.8" stroke="#1a1a1a" stroke-width="1.0"/>
<text transform="translate(451.4 875.8) scale(0.5)" font-size="9.8" text-anchor="middle" fill="#4a4a4a" font-weight="400">680</text>
<line x1="474" y1="866.2" x2="474" y2="869.8" stroke="#1a1a1a" stroke-width="1.0"/>
<text transform="translate(474 875.8) scale(0.5)" font-size="9.8" text-anchor="middle" fill="#4a4a4a" font-weight="400">730</text>
<line x1="496.7" y1="866.2" x2="496.7" y2="869.8" stroke="#1a1a1a" stroke-width="1.0"/>
<text transform="translate(499.9 875.8) scale(0.5)" font-size="9.8" text-anchor="middle" fill="#4a4a4a" font-weight="400">780nm</text>
<text transform="translate(322 769.9) scale(0.5)" font-size="11.1" text-anchor="start" fill="#666" font-weight="400">W/m2/nm</text>
<path d="M537.8 863.4 L538.4 863.4 L538.9 863.4 L539.5 863.4 L540 863.4 L540.6 863.4 L541.1 863.4 L541.7 863.4 L542.2 863.4 L542.8 863.4 L543.3 863.4 L543.9 863.4 L544.4 863.4 L544.4 863.4 L545 863.4 L545.6 863.4 L546.1 863.3 L546.7 863.2 L547.2 863.1 L547.5 863.1 L547.8 863 L548.3 862.9 L548.9 862.6 L549.4 862.4 L550 862 L550.5 861.7 L551 861.3 L551.1 861.3 L551.6 860.9 L552.2 860.4 L552.7 859.8 L553.3 859.1 L553.9 858.4 L554.4 857.7 L554.6 857.5 L555 856.9 L555.5 856.1 L556.1 855.2 L556.6 854.2 L557.2 853 L557.7 851.8 L557.7 851.6 L558.3 849.6 L558.8 847 L559.4 844 L559.9 840.8 L560.5 837.7 L560.8 836.3 L561.1 834.7 L561.6 831.6 L562.2 828.6 L562.7 826 L563 825 L563.3 824 L563.8 822.3 L564.4 820.9 L564.9 819.9 L565.2 819.7 L565.5 819.5 L566 819.2 L566.6 819.1 L567.1 818.9 L567.7 818.7 L567.8 818.7 L568.2 818.4 L568.8 818 L569.4 817.4 L569.9 817 L570.5 816.7 L570.9 816.6 L571 816.6 L571.6 817 L572.1 817.7 L572.7 818.3 L572.7 818.3 L573.2 818.9 L573.8 819.3 L574 819.4 L574.3 818.7 L574.9 815.5 L575.4 811.5 L575.8 809.5 L576 808.3 L576.6 805.4 L577.1 803.2 L577.1 803.1 L577.7 801.4 L578.2 800.2 L578.4 800.1 L578.8 800.4 L579.3 801.4 L579.9 802.6 L580.2 803.2 L580.4 803.5 L581 804.4 L581.5 805.2 L581.9 805.6 L582.1 805.7 L582.6 806.1 L583.2 806.4 L583.7 806.7 L584.3 806.9 L584.9 807.1 L585.4 807.4 L585.5 807.4 L586 807.6 L586.5 807.9 L587.1 808.1 L587.6 808.3 L588.2 808.4 L588.6 808.5 L588.7 808.4 L589.3 808.4 L589.8 808.2 L590.4 808 L590.9 807.7 L591.5 807.4 L592.1 807.1 L592.6 806.9 L593 806.7 L593.2 806.6 L593.7 806.4 L594.3 806.1 L594.8 805.9 L595.4 805.6 L595.9 805.3 L596.5 805.1 L597 804.8 L597.6 804.5 L598.1 804.3 L598.3 804.2 L598.7 804 L599.3 803.8 L599.8 803.6 L600.4 803.3 L600.9 803.1 L601.5 802.9 L602 802.6 L602.6 802.4 L603.1 802.2 L603.7 801.9 L604 801.8 L604.2 801.7 L604.8 801.4 L605.3 801.1 L605.9 800.8 L606.4 800.5 L607 800.2 L607.6 799.9 L608.1 799.6 L608.7 799.4 L609.2 799.1 L609.8 798.9 L609.8 798.9 L610.3 798.8 L610.9 798.6 L611.4 798.4 L612 798.2 L612.5 798 L613.1 797.9 L613.6 797.7 L614.2 797.6 L614.8 797.5 L615.3 797.4 L615.9 797.4 L616.4 797.4 L616.4 797.4 L617 797.4 L617.5 797.4 L618.1 797.4 L618.6 797.4 L619.2 797.4 L619.7 797.5 L620.3 797.5 L620.8 797.5 L621.4 797.5 L621.7 797.5 L621.9 797.5 L622.5 797.6 L623.1 797.6 L623.6 797.7 L624.2 797.7 L624.7 797.8 L625.3 797.8 L625.8 797.9 L626.4 797.9 L626.5 797.9 L626.9 797.9 L627.5 797.8 L628 797.6 L628.6 797.4 L629.1 797.2 L629.7 797 L630.3 796.7 L630.8 796.4 L631.4 796.1 L631.4 796.1 L631.9 795.8 L632.5 795.5 L633 795.1 L633.6 794.7 L634.1 794.3 L634.7 793.9 L635.2 793.4 L635.8 793 L636.3 792.6 L636.3 792.5 L636.9 792 L637.4 791.5 L638 791 L638.6 790.5 L639.1 789.9 L639.7 789.4 L640.2 788.9 L640.8 788.4 L641.3 787.9 L641.6 787.7 L641.9 787.4 L642.4 786.9 L643 786.4 L643.5 786 L644.1 785.5 L644.6 785.1 L645.2 784.7 L645.8 784.3 L646 784.1 L646.3 783.9 L646.9 783.5 L647.4 783.1 L648 782.7 L648.5 782.4 L649.1 782.2 L649.6 782 L649.9 782 L650.2 782 L650.7 782.1 L651.3 782.1 L651.8 782.3 L652.4 782.4 L652.9 782.6 L653.5 782.7 L653.5 782.7 L654.1 783 L654.6 783.4 L655.2 784 L655.7 784.6 L656.3 785.3 L656.8 786 L657 786.2 L657.4 786.8 L657.9 787.7 L658.5 788.8 L659 790 L659.6 791.2 L660.1 792.3 L660.7 793.5 L661 794 L661.3 794.5 L661.8 795.5 L662.4 796.6 L662.9 797.6 L663.5 798.6 L664 799.6 L664.6 800.5 L665.1 801.4 L665.4 801.8 L665.7 802.2 L666.2 803 L666.8 803.8 L667.3 804.6 L667.9 805.3 L668.5 806 L669 806.6 L669.6 807.2 L669.8 807.4 L670.1 807.7 L670.7 808.2 L671.2 808.7 L671.8 809.2 L672.3 809.6 L672.9 809.8 L673.3 809.9 L673.4 809.9 L674 809.9 L674.5 809.9 L674.7 809.9 L675.1 809.8 L675.6 809.4 L676.2 808.8 L676.8 808.1 L677.3 807.3 L677.8 806.7 L677.9 806.5 L678.4 805.6 L679 804.4 L679.5 803.1 L680.1 801.8 L680.4 801 L680.6 800.5 L681.2 799 L681.7 797.6 L682.2 796.8 L682.3 796.6 L682.8 795.9 L683.4 795.4 L683.5 795.4 L684 795.9 L684.5 797.3 L684.8 798.2 L685.1 799.1 L685.6 801.7 L686.2 804.7 L686.6 806.7 L686.7 807.2 L687.3 809.6 L687.8 811.7 L688.4 813 L688.4 813.1 L688.9 813.9 L689.5 814.4 L689.7 814.4 L690 814.2 L690.6 813.2 L691.1 811.7 L691.4 810.9 L691.7 810.1 L692.3 807.8 L692.8 805.1 L693.4 802.4 L693.6 801 L693.9 799.9 L694.5 797.3 L695 794.9 L695.6 792.7 L695.9 791.9 L696.1 791.1 L696.7 789.6 L697.2 789.1 L697.2 789.1 L697.8 789.7 L698.3 790.8 L698.5 791.2 L698.9 792.2 L699.5 794 L700 796 L700.3 796.8 L700.6 797.8 L701.1 799.7 L701.7 801.4 L702 802.1 L702.2 802.3 L702.8 802.9 L703.3 803.2 L703.4 803.2 L703.9 802.8 L704.4 801.9 L705 800.7 L705.1 800.3 L705.5 799.1 L706.1 796.9 L706.6 794.7 L706.9 794 L707.2 793.2 L707.8 791.7 L708.3 790.7 L708.7 790.5 L708.9 790.6 L709.4 791.9 L710 793.9 L710 794 L710.5 796.6 L711.1 800.5 L711.3 802.5 L711.6 806.1 L712.2 814.5 L712.6 820.8 L712.7 821.9 L713.3 825.6 L713.8 830.3 L714.2 836.3 L714.4 864.5 L714.4 864.5 L537.8 864.5 Z" fill="url(#cFg)"/>
<line x1="537.8" y1="868.1" x2="537.8" y2="768.2" stroke="#1a1a1a" stroke-width="1.0"/>
<polygon points="537.8,764.8 535.9,768.7 539.7,768.7" fill="#1a1a1a"/>
<line x1="537.8" y1="864.5" x2="719.2" y2="864.5" stroke="#1a1a1a" stroke-width="1.0"/>
<polygon points="722.6,864.5 718.7,862.6 718.7,866.4" fill="#1a1a1a"/>
<line x1="534.2" y1="779.9" x2="537.8" y2="779.9" stroke="#1a1a1a" stroke-width="1.0"/>
<text transform="translate(532.2 781.5) scale(0.5)" font-size="8.8" text-anchor="end" fill="#4a4a4a" font-weight="400">1.2</text>
<line x1="534.2" y1="794" x2="537.8" y2="794" stroke="#1a1a1a" stroke-width="1.0"/>
<text transform="translate(532.2 795.6) scale(0.5)" font-size="8.8" text-anchor="end" fill="#4a4a4a" font-weight="400">1.0</text>
<line x1="534.2" y1="808.1" x2="537.8" y2="808.1" stroke="#1a1a1a" stroke-width="1.0"/>
<text transform="translate(532.2 809.7) scale(0.5)" font-size="8.8" text-anchor="end" fill="#4a4a4a" font-weight="400">0.8</text>
<line x1="534.2" y1="822.2" x2="537.8" y2="822.2" stroke="#1a1a1a" stroke-width="1.0"/>
<text transform="translate(532.2 823.8) scale(0.5)" font-size="8.8" text-anchor="end" fill="#4a4a4a" font-weight="400">0.6</text>
<line x1="534.2" y1="836.3" x2="537.8" y2="836.3" stroke="#1a1a1a" stroke-width="1.0"/>
<text transform="translate(532.2 837.9) scale(0.5)" font-size="8.8" text-anchor="end" fill="#4a4a4a" font-weight="400">0.4</text>
<line x1="534.2" y1="850.4" x2="537.8" y2="850.4" stroke="#1a1a1a" stroke-width="1.0"/>
<text transform="translate(532.2 852) scale(0.5)" font-size="8.8" text-anchor="end" fill="#4a4a4a" font-weight="400">0.2</text>
<line x1="534.2" y1="864.5" x2="537.8" y2="864.5" stroke="#1a1a1a" stroke-width="1.0"/>
<text transform="translate(532.2 866.1) scale(0.5)" font-size="8.8" text-anchor="end" fill="#4a4a4a" font-weight="400">0</text>
<text transform="translate(537.8 873.5) scale(0.5)" font-size="8.8" text-anchor="middle" fill="#4a4a4a" font-weight="400">380</text>
<line x1="559.9" y1="864.5" x2="559.9" y2="868.1" stroke="#1a1a1a" stroke-width="1.0"/>
<text transform="translate(559.9 873.5) scale(0.5)" font-size="8.8" text-anchor="middle" fill="#4a4a4a" font-weight="400">430</text>
<line x1="581.9" y1="864.5" x2="581.9" y2="868.1" stroke="#1a1a1a" stroke-width="1.0"/>
<text transform="translate(581.9 873.5) scale(0.5)" font-size="8.8" text-anchor="middle" fill="#4a4a4a" font-weight="400">480</text>
<line x1="604" y1="864.5" x2="604" y2="868.1" stroke="#1a1a1a" stroke-width="1.0"/>
<text transform="translate(604 873.5) scale(0.5)" font-size="8.8" text-anchor="middle" fill="#4a4a4a" font-weight="400">530</text>
<line x1="626.1" y1="864.5" x2="626.1" y2="868.1" stroke="#1a1a1a" stroke-width="1.0"/>
<text transform="translate(626.1 873.5) scale(0.5)" font-size="8.8" text-anchor="middle" fill="#4a4a4a" font-weight="400">580</text>
<line x1="648.2" y1="864.5" x2="648.2" y2="868.1" stroke="#1a1a1a" stroke-width="1.0"/>
<text transform="translate(648.2 873.5) scale(0.5)" font-size="8.8" text-anchor="middle" fill="#4a4a4a" font-weight="400">630</text>
<line x1="670.2" y1="864.5" x2="670.2" y2="868.1" stroke="#1a1a1a" stroke-width="1.0"/>
<text transform="translate(670.2 873.5) scale(0.5)" font-size="8.8" text-anchor="middle" fill="#4a4a4a" font-weight="400">680</text>
<line x1="692.3" y1="864.5" x2="692.3" y2="868.1" stroke="#1a1a1a" stroke-width="1.0"/>
<text transform="translate(692.3 873.5) scale(0.5)" font-size="8.8" text-anchor="middle" fill="#4a4a4a" font-weight="400">730</text>
<line x1="714.4" y1="864.5" x2="714.4" y2="868.1" stroke="#1a1a1a" stroke-width="1.0"/>
<text transform="translate(717.6 873.5) scale(0.5)" font-size="8.8" text-anchor="middle" fill="#4a4a4a" font-weight="400">780nm</text>
<text transform="translate(545 773.4) scale(0.5)" font-size="9.9" text-anchor="start" fill="#666" font-weight="400">W/m2/nm</text>
<polygon points="256,700 271.1,700 271.1,697.1 279.2,704.5 271.1,711.9 271.1,709 256,709" fill="#000"/>
<polygon points="517,700 532.1,700 532.1,697.1 540.2,704.5 532.1,711.9 532.1,709 517,709" fill="#000"/>
<polygon points="285,897 300.1,897 300.1,894.1 308.2,901.5 300.1,908.9 300.1,906 285,906" fill="#000"/>
<polygon points="507,896.9 522.1,896.9 522.1,894 530.2,901.4 522.1,908.8 522.1,905.9 507,905.9" fill="#000"/>
</svg>
<div class="abs lab r1" style="left:150.4px;top:693px;">白炽灯</div>
<div class="abs lab r1" style="left:335.7px;top:693px;">荧光灯<span style="margin:0 1.1px 0 -3.4px">（</span>节能灯<span style="margin-left:1.1px">）</span></div>
<div class="abs lab r1" style="left:580.5px;top:693px;">第一代<span class="en">LED</span></div>
<div class="abs lab" style="left:137px;top:889.3px;">第二代<span class="en">LED</span></div>
<div class="abs lab" style="left:359.7px;top:889.3px;">普通全光谱</div>
<div class="abs lab" style="left:554.7px;top:889.3px;">立达信视觉光因子</div>
</body>
</html>
